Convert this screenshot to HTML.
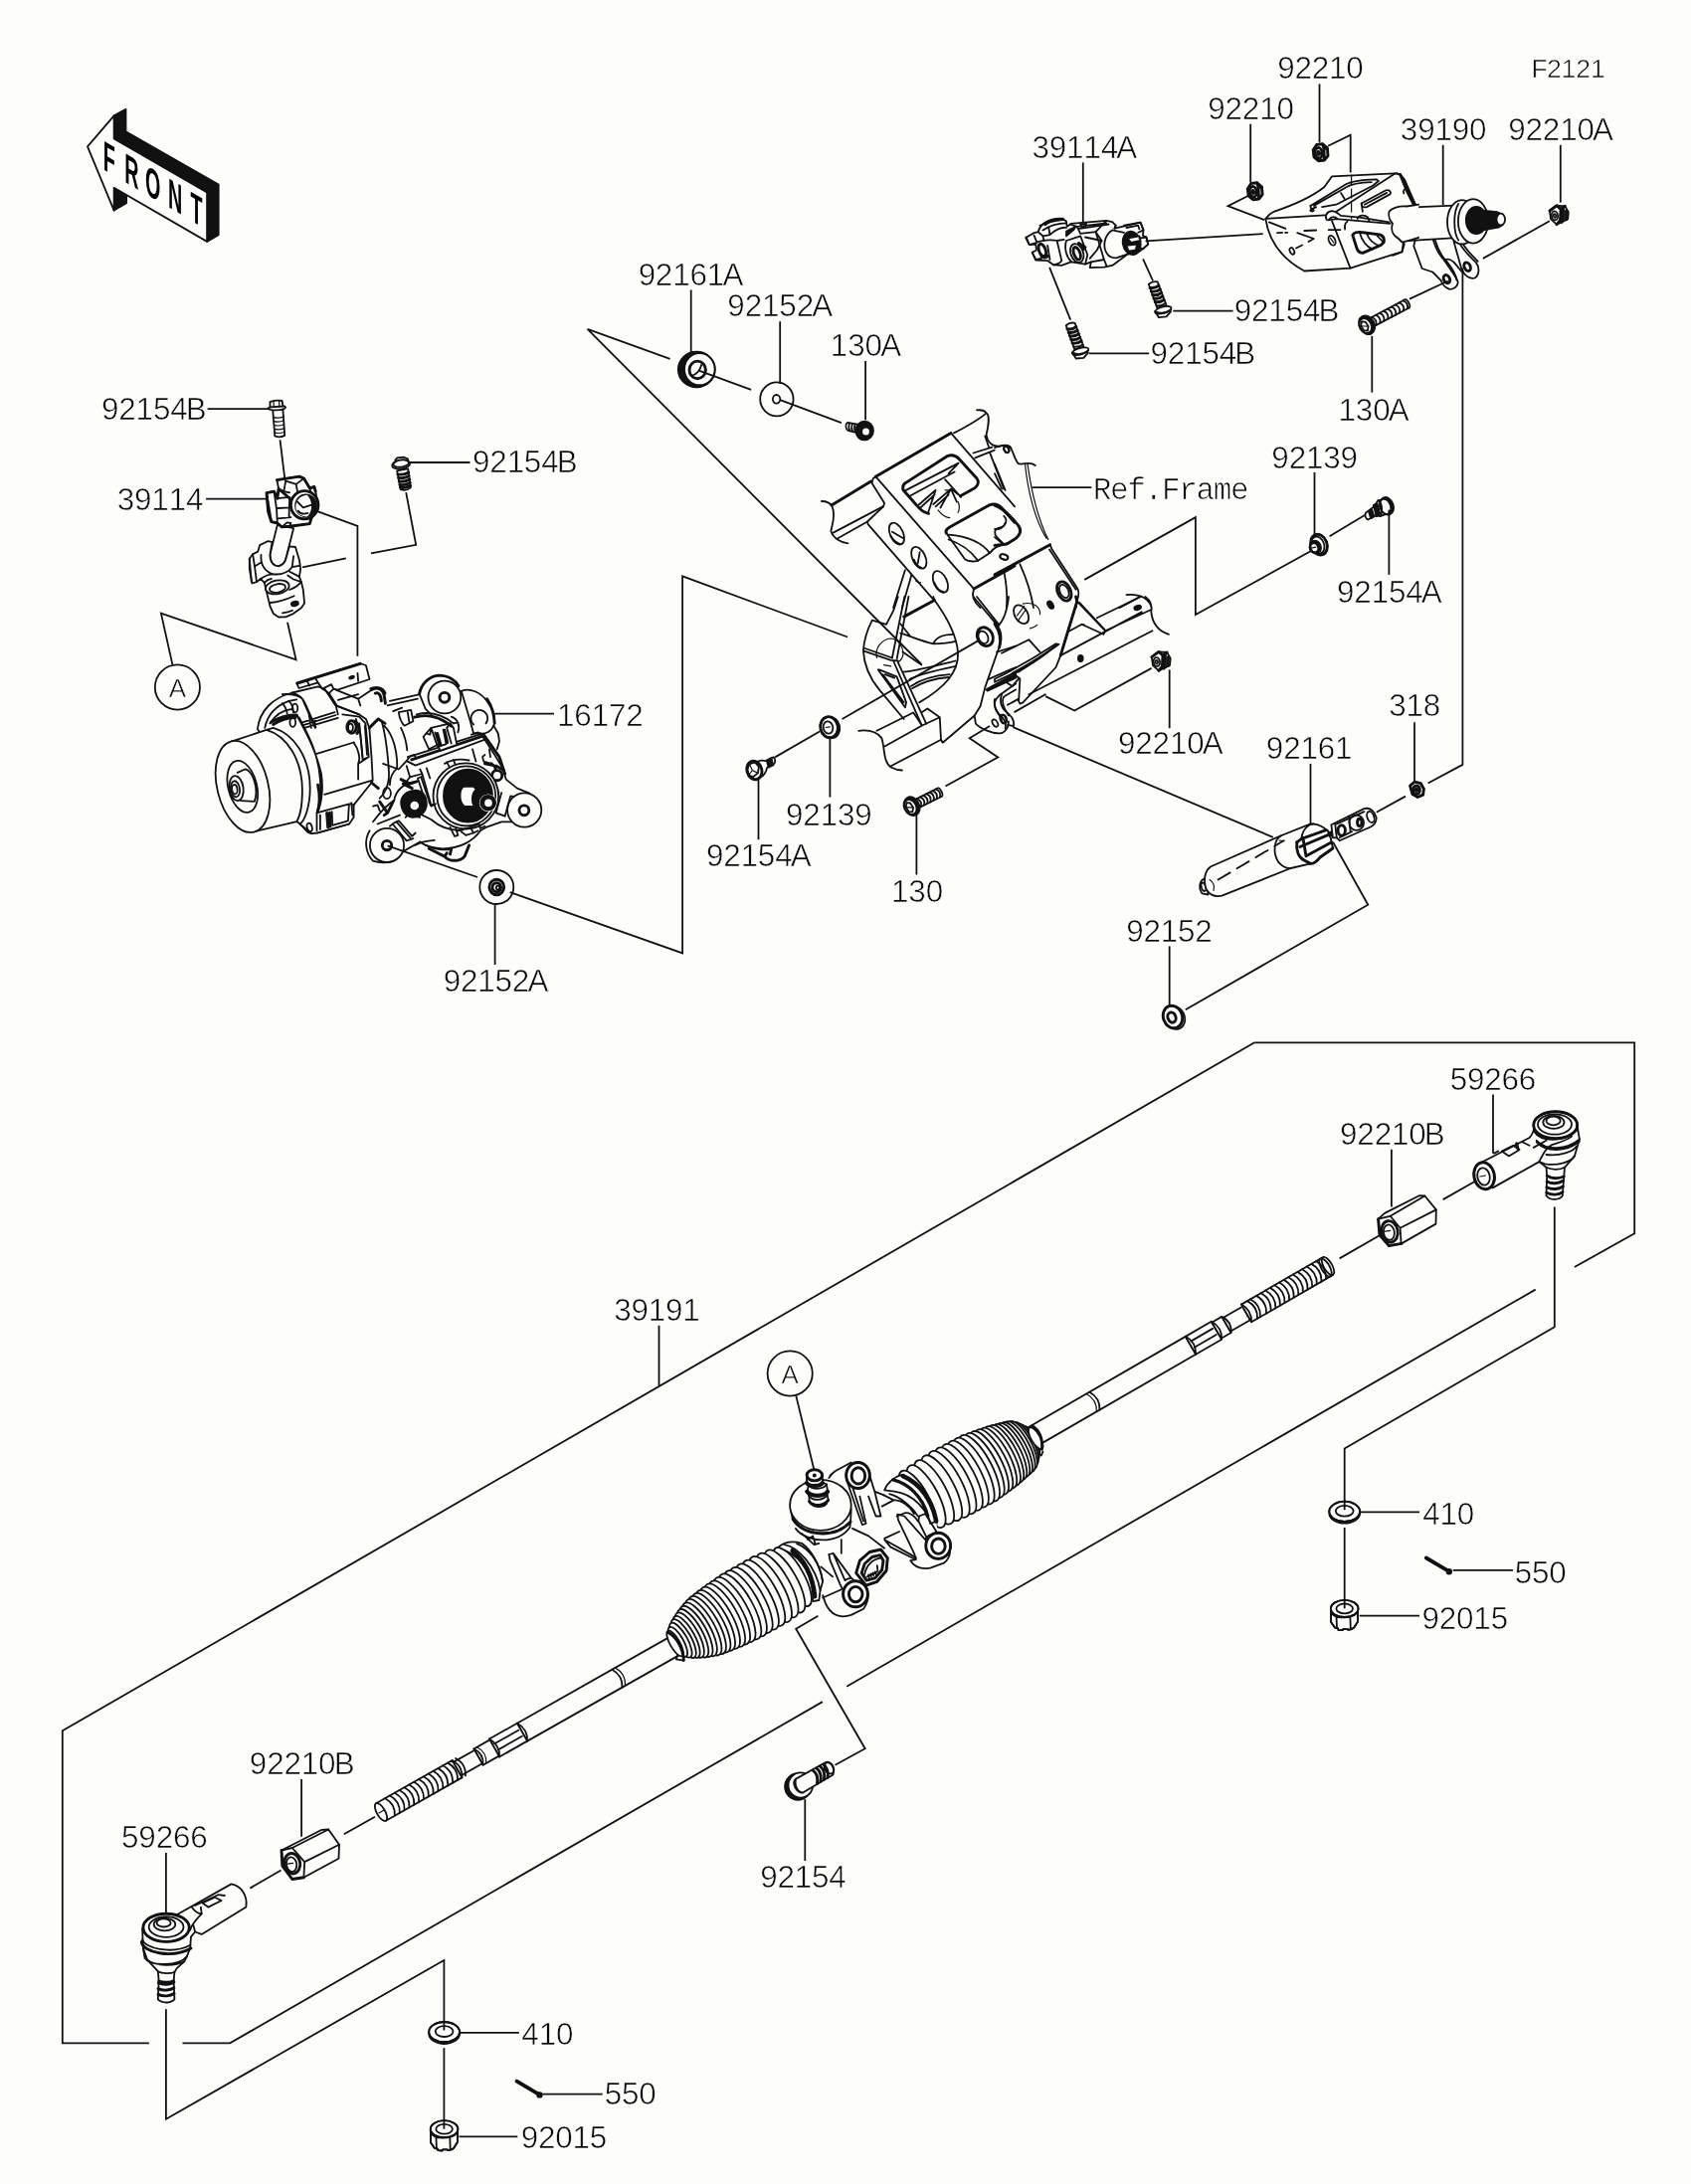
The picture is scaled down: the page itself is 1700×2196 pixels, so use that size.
<!DOCTYPE html>
<html><head><meta charset="utf-8"><title>Steering parts diagram F2121</title>
<style>html,body{margin:0;padding:0;background:#fdfefc}svg{display:block}.lb text{font-family:"Liberation Sans","DejaVu Sans",sans-serif;font-size:31.4px;fill:#0a0a0a;stroke:#fdfefc;stroke-width:0.6px;text-anchor:middle}.ln{fill:none;stroke:#111;stroke-width:1.8;stroke-linejoin:miter}.parts *{stroke:#111;stroke-width:1.8;stroke-linejoin:round;stroke-linecap:round}.parts text{stroke:none}.p{fill:none}.w{fill:#fdfefc}.k{fill:#111}.t{fill:none;stroke-width:1.2 !important}.h{fill:none;stroke-width:2.9 !important}.g{fill:#555}</style></head><body>
<svg width="1700" height="2196" viewBox="0 0 1700 2196" style="will-change:transform">
<rect width="1700" height="2196" fill="#fdfefc"/>
<g class="parts">
<g id="p01_front">
<polygon class="k" points="114.6,116.4 126.5,109.8 126.5,132.3 219.7,185.6 219.7,236.1 208.1,242.9 208.1,193.5 114.6,139.4"/>
<polygon class="k" points="114.6,188.8 127.1,195.8 127.1,204.2 114.6,211.6"/>
<polygon class="w" points="88.0,147.4 114.6,116.4 114.6,139.4 208.1,193.5 208.1,242.9 114.6,188.8 114.6,211.6"/>
<text transform="translate(109.7 173.7) skewY(30) scale(0.47 1)" text-anchor="middle" style="font-family:'Liberation Sans','DejaVu Sans',sans-serif;font-weight:bold;font-size:42px;fill:#000">F</text>
<text transform="translate(132.4 186.8) skewY(30) scale(0.47 1)" text-anchor="middle" style="font-family:'Liberation Sans','DejaVu Sans',sans-serif;font-weight:bold;font-size:42px;fill:#000">R</text>
<text transform="translate(153.7 199.2) skewY(30) scale(0.47 1)" text-anchor="middle" style="font-family:'Liberation Sans','DejaVu Sans',sans-serif;font-weight:bold;font-size:42px;fill:#000">O</text>
<text transform="translate(176.2 212.2) skewY(30) scale(0.47 1)" text-anchor="middle" style="font-family:'Liberation Sans','DejaVu Sans',sans-serif;font-weight:bold;font-size:42px;fill:#000">N</text>
<text transform="translate(197.5 225.1) skewY(30) scale(0.47 1)" text-anchor="middle" style="font-family:'Liberation Sans','DejaVu Sans',sans-serif;font-weight:bold;font-size:42px;fill:#000">T</text>
</g>
<g id="p02_ujoint">
<path class="w" d="M 274.2 411.9 L 276.3 438.4 Q 281.4 440.5 286.2 437.9 L 284.4 411.5 Z"/>
<path class="t" d="M 275.1 419.7 Q 280.7 421.0 285.2 418.9"/>
<path class="t" d="M 275.4 423.6 Q 280.7 424.9 285.4 422.8"/>
<path class="t" d="M 275.7 427.5 Q 280.7 428.8 285.7 426.7"/>
<path class="t" d="M 275.9 431.4 Q 280.7 432.7 285.9 430.6"/>
<path class="t" d="M 276.2 435.0 Q 280.7 436.3 286.2 434.2"/>
<ellipse class="w" cx="278.4" cy="410.2" rx="8.7" ry="2.1" transform="rotate(-4 278.4 410.2)"/>
<path class="w" d="M 271.6 409.3 L 271.4 404.1 Q 277.5 402.0 283.6 403.0 L 284.4 408.5 Z"/>
<path class="t" d="M 275.3 409.5 L 275.0 403.5 M 281.0 409.0 L 280.5 403.0"/>
<path class="w" d="M 399.1 473.3 L 402.8 492.1 Q 408.2 494.1 412.8 490.4 L 410.2 471.3 Z"/>
<path class="h" d="M 399.9 476.9 Q 406.3 477.9 410.8 475.1"/>
<path class="h" d="M 400.6 480.4 Q 406.3 481.5 411.2 478.6"/>
<path class="h" d="M 401.2 483.9 Q 406.3 485.0 411.8 482.1"/>
<path class="h" d="M 401.9 487.3 Q 406.3 488.4 412.3 485.5"/>
<path class="h" d="M 402.4 490.2 Q 406.3 491.2 412.7 488.4"/>
<ellipse class="w" cx="403.2" cy="467.0" rx="9.1" ry="4.4" transform="rotate(-8 403.2 467.0)"/>
<ellipse class="w" cx="403.2" cy="466.1" rx="7.8" ry="3.5" transform="rotate(-8 403.2 466.1)"/>
<path class="p" d="M 397.2 462.9 L 399.1 460.5 L 405.6 459.6 L 409.9 461.3 L 410.6 464.4"/>
<path class="w" d="M 278.8 527.9 L 271.4 557.8 Q 271.6 568.9 280.1 569.3 Q 286.2 567.6 287.5 561.5 L 295.1 531.2 Z"/>
<path class="w" d="M 250.8 561.7 L 254.1 557.2 L 259.3 554.6 L 261.2 548.1 L 269.0 544.2 L 273.6 544.8 L 271.4 557.8 Q 271.6 568.9 280.1 569.3 Q 286.2 567.6 287.5 561.5 L 290.9 549.4 L 297.0 550.0 L 300.9 563.0 L 302.2 572.1 L 300.9 579.9 L 302.9 585.2 L 304.8 593.0 L 306.1 606.6 L 302.9 611.2 L 293.7 617.7 L 287.2 620.3 L 280.1 620.5 L 274.9 617.0 L 271.6 609.9 L 268.4 596.9 L 265.8 585.8 L 261.9 581.9 L 258.0 585.2 L 253.4 586.5 L 250.8 572.1 Z"/>
<path class="p" d="M 262.5 557.8 Q 261.2 572.1 274.2 577.3 Q 287.2 578.6 293.7 570.2 L 295.1 559.1"/>
<path class="p" d="M 250.8 561.7 L 252.8 585.2 M 254.1 557.2 L 256.0 569.5 L 262.5 565.6 M 256.0 569.5 L 258.0 585.2"/>
<path class="p" d="M 261.9 581.9 Q 269.0 577.3 274.2 577.3 M 265.8 585.8 Q 269.0 582.5 272.9 581.9"/>
<path class="p" d="M 293.7 570.2 L 300.9 568.9 M 291.1 574.7 L 300.9 579.9 M 289.2 578.6 L 295.1 582.5 L 302.9 585.2"/>
<ellipse class="w" cx="278.8" cy="590.4" rx="12.0" ry="6.8" transform="rotate(-10 278.8 590.4)"/>
<ellipse class="p" cx="279.0" cy="591.4" rx="8.1" ry="4.2" transform="rotate(-10 279.0 591.4)"/>
<path class="p" d="M 271.6 606.0 Q 282.0 605.3 295.7 599.2"/>
<path class="p" d="M 284.0 616.4 Q 289.8 615.7 294.0 613.8"/>
<ellipse class="k" cx="296.4" cy="607.0" rx="3.6" ry="2.2" transform="rotate(-15 296.4 607.0)"/>
<path class="p" d="M 291.1 593.0 Q 297.7 591.0 302.9 585.2"/>
<path class="w" d="M 278.4 482.6 L 300.9 479.1 L 305.5 481.1 L 311.3 490.8 L 315.9 489.5 L 317.2 494.1 L 319.8 507.1 L 319.8 511.6 L 313.3 520.1 L 311.3 526.6 L 291.1 529.2 L 283.3 529.9 L 278.8 526.0 L 272.9 524.7 L 269.7 514.9 L 268.0 495.6 L 275.5 494.1 L 278.8 501.2 L 280.1 491.5 Z"/>
<path class="h" d="M 278.4 482.6 L 300.9 479.1 L 305.5 481.1 L 311.3 490.8 L 315.9 489.5 L 317.2 494.1 M 313.3 520.1 L 311.3 526.6 L 291.1 529.2 L 283.3 529.9 L 278.8 526.0 L 272.9 524.7 L 269.7 514.9 L 268.0 495.6 L 275.5 494.1 L 278.8 501.2 L 280.1 491.5 Z"/>
<path class="p" d="M 268.0 495.6 L 271.4 514.9 L 272.9 524.7 M 275.5 494.1 L 278.1 512.3 L 278.8 526.0 M 278.8 501.2 L 291.1 499.9 M 280.1 491.5 L 285.3 494.1 L 287.2 483.7 M 285.3 494.1 L 291.1 495.4 M 279.4 511.0 L 291.1 510.3 M 279.4 521.4 L 292.4 520.1 M 291.1 499.9 L 290.5 520.1"/>
<path class="p" d="M 287.2 483.7 L 297.7 486.9 L 305.5 481.1 M 297.7 486.9 L 299.0 494.1 M 311.3 490.8 L 313.3 498.0"/>
<path class="p" d="M 283.3 529.9 L 288.5 525.3 L 292.4 526.0 L 291.1 529.2"/>
<ellipse class="w" cx="306.1" cy="507.7" rx="13.8" ry="14.1"/>
<ellipse class="h" cx="306.1" cy="507.7" rx="13.8" ry="14.1"/>
<ellipse class="k" cx="307.5" cy="508.4" rx="10.4" ry="10.9"/>
<path class="w" d="M 308.7 497.7 C 300.9 498.2 297.0 504.2 297.4 510.3 C 297.9 515.9 302.2 519.3 308.7 519.5 C 314.6 514.9 314.6 502.9 308.7 497.7 Z" style="stroke:none"/>
<path class="p" d="M 299.0 504.5 L 304.8 510.3 L 313.3 507.7 M 299.6 513.6 Q 302.9 518.1 309.4 515.9"/>
</g>
<g id="p03_motor">
<path class="w" style="stroke:none" d="M 370.5 693.7 L 422.2 697.1 L 428.9 682.5 L 441.3 679.1 L 453.7 682.5 L 463.8 694.8 L 473.9 692.6 L 485.1 698.2 L 493.0 709.4 L 497.5 720.7 L 496.3 729.7 L 500.8 738.7 L 502.0 749.9 L 508.7 772.4 L 509.8 785.8 L 519.9 792.6 L 534.6 798.2 L 543.5 810.6 L 542.4 822.9 L 532.3 830.8 L 519.9 831.9 L 504.2 826.3 L 487.4 833.0 L 472.8 848.8 L 467.1 861.1 L 455.9 865.6 L 446.9 861.1 L 422.2 846.5 L 405.3 855.5 L 395.2 865.6 L 381.7 866.7 L 370.5 862.2 Z"/>
<path class="h" d="M 421.6 697.6 C 423.3 688.1 431.2 679.7 441.3 679.1 C 451.4 679.1 458.1 684.7 461.0 689.8"/>
<path class="p" d="M 421.6 697.6 L 427.8 712.8 L 433.4 718.4"/>
<ellipse class="w" cx="446.9" cy="701.0" rx="16.4" ry="16.4"/>
<ellipse class="h" cx="446.9" cy="701.3" rx="4.9" ry="4.9"/>
<path class="p" d="M 463.8 694.8 C 472.8 691.5 482.9 696.0 489.6 704.9 C 495.8 712.8 498.6 722.9 496.3 729.7 C 494.1 735.3 488.5 738.1 482.9 737.5"/>
<path class="h" d="M 489.6 702.7 C 494.1 709.4 496.9 718.4 497.2 727.4"/>
<path class="p" d="M 488.5 727.4 A 8.4 8.4 0 1 0 476.1 728.5"/>
<path class="p" d="M 463.8 694.8 L 472.8 725.2 L 476.1 737.5 L 482.9 737.5"/>
<path class="p" d="M 496.3 729.7 L 500.8 737.5 L 502.0 745.4 L 499.7 753.3"/>
<path class="p" d="M 482.9 737.5 L 488.5 745.4 L 498.6 761.1 L 505.3 772.4 L 508.7 783.6 L 519.9 792.6 L 532.3 797.6"/>
<path class="h" d="M 486.2 738.7 L 502.0 761.1 L 507.6 778.0"/>
<ellipse class="w" cx="527.2" cy="814.5" rx="17.1" ry="17.1"/>
<ellipse class="h" cx="526.9" cy="814.8" rx="4.9" ry="4.9"/>
<path class="p" d="M 504.2 797.1 L 498.6 817.3 L 507.6 820.7 L 513.2 800.4 M 501.4 796.5 L 495.8 816.7 M 513.2 800.4 L 516.6 801.0"/>
<path class="p" d="M 514.3 826.3 L 504.2 826.3 L 488.5 831.9 L 482.9 835.3"/>
<path class="w" d="M 408.7 765.1 L 412.1 760.6 L 483.4 738.1 L 487.4 743.7 L 417.7 769.6 Z"/>
<path class="h" d="M 413.8 763.9 L 484.6 740.3"/>
<path class="p" d="M 409.8 761.1 L 416.6 758.9 L 418.3 762.8 M 473.9 738.7 L 480.6 736.4 L 482.3 738.7"/>
<path class="w" d="M 425.6 740.9 L 428.4 737.5 L 433.4 731.9 L 452.5 727.4 L 455.9 731.9 L 459.3 748.8 L 442.4 754.9 L 440.2 748.8 L 431.2 753.3 Z"/>
<path class="p" d="M 437.4 736.4 L 441.9 750.4 L 448.6 748.2 L 445.6 733.6 M 433.4 731.9 L 439.6 749.9 M 452.5 727.4 L 449.2 731.9 L 453.7 747.6 M 428.4 737.5 L 432.3 738.7 L 433.4 731.9"/>
<path class="h" d="M 439.6 737.5 L 443.0 748.8 M 446.9 734.2 L 449.7 746.5"/>
<path class="h" d="M 416.6 721.2 C 428.9 717.3 442.4 720.7 453.7 730.2"/>
<path class="p" d="M 418.8 718.4 C 431.2 715.1 444.7 718.4 455.9 727.4"/>
<path class="p" d="M 391.9 704.9 L 422.2 698.2 M 389.6 709.4 L 419.9 702.7 M 395.2 715.1 L 404.2 711.7"/>
<path class="h" d="M 372.8 692.6 C 379.5 690.3 385.1 692.6 386.2 699.3 L 387.4 707.2 M 377.2 697.1 C 380.6 696.0 382.9 698.2 383.4 704.9"/>
<path class="w" d="M 400.8 716.2 L 413.2 713.9 L 415.4 725.2 L 406.5 729.7 Q 402.0 725.2 400.8 716.2 Z"/>
<path class="p" d="M 409.8 716.2 L 411.5 726.3"/>
<path class="p" d="M 453.7 720.7 C 460.4 722.9 462.6 729.7 460.4 736.4 M 455.9 727.4 L 460.4 726.3"/>
<path class="p" d="M 384.0 726.3 C 387.4 738.7 389.6 755.5 390.7 772.4 M 386.2 729.7 C 395.2 738.7 399.7 755.5 399.2 772.4 M 403.1 731.9 C 406.5 738.7 408.7 747.6 409.3 754.4"/>
<path class="p" d="M 385.1 767.9 L 400.8 773.5 L 408.7 765.1"/>
<path class="p" d="M 390.7 772.4 C 391.9 783.6 389.6 794.8 381.7 802.7 M 399.2 772.4 C 394.1 776.9 391.9 783.6 391.9 789.2"/>
<ellipse class="p" cx="389.0" cy="797.6" rx="3.9" ry="5.6"/>
<path class="p" d="M 408.7 770.1 L 412.1 781.3 L 424.4 778.0 L 433.4 809.4 L 437.9 808.3 M 412.1 781.3 L 408.7 785.8 M 424.4 778.0 L 422.2 773.5 M 428.9 772.4 L 432.3 782.5"/>
<path class="p" d="M 419.9 782.5 L 427.8 806.1 M 423.3 781.3 L 431.2 804.9 M 419.9 782.5 L 424.4 780.8"/>
<path class="h" d="M 403.1 783.6 L 412.1 788.1 L 418.8 785.8 M 405.3 788.1 L 414.3 792.6"/>
<path class="p" d="M 475.0 753.3 L 478.4 765.6 M 487.4 758.9 L 485.1 761.1 L 486.2 765.6 L 494.1 767.9 M 491.9 753.3 L 493.0 761.1"/>
<ellipse class="h" cx="499.7" cy="779.7" rx="5.1" ry="5.1"/>
<path class="h" d="M 487.4 767.9 L 498.6 770.1 L 506.5 774.6 M 494.1 767.9 C 497.5 770.1 498.6 772.4 498.0 774.6"/>
<ellipse class="w" cx="468.3" cy="800.4" rx="32.8" ry="33.1"/>
<ellipse class="p" cx="468.8" cy="800.4" rx="29.4" ry="30.1"/>
<path class="p" d="M 446.9 767.9 C 453.7 763.9 462.6 762.8 471.6 764.5 M 449.2 766.2 L 451.4 770.7 M 455.9 763.9 L 457.6 768.4"/>
<ellipse class="k" cx="470.5" cy="800.2" rx="24.5" ry="26.5"/>
<g style="stroke:#fdfefc">
<ellipse class="t" cx="465.4" cy="800.4" rx="16.9" ry="20.8"/>
<ellipse class="t" cx="465.4" cy="800.4" rx="13.7" ry="17.1"/>
<ellipse class="t" cx="465.8" cy="800.4" rx="10.8" ry="13.7"/>
</g>
<path class="w" d="M 466.0 790.9 C 461.5 793.7 461.0 806.1 466.6 810.6 L 476.7 811.1 C 473.9 806.6 473.9 797.6 478.9 793.7 L 476.1 790.9 Z"/>
<ellipse class="w" cx="490.7" cy="807.2" rx="8.8" ry="8.8" style="stroke:none"/>
<ellipse class="k" cx="490.7" cy="807.2" rx="7.4" ry="7.4"/>
<ellipse class="w" cx="491.0" cy="807.4" rx="4.7" ry="4.7"/>
<path class="k" d="M 403.1 806.1 C 404.2 798.2 412.1 793.7 419.9 794.8 C 425.6 796.0 428.9 801.6 428.9 809.4 C 427.8 817.3 422.2 821.8 414.3 821.8 C 407.6 820.7 403.1 815.1 403.1 806.1 Z"/>
<ellipse class="w" cx="416.8" cy="810.0" rx="5.2" ry="5.2"/>
<path class="p" d="M 396.3 804.9 C 397.5 794.8 406.5 787.0 417.7 785.8 M 407.6 821.8 L 409.8 819.6 L 422.2 821.8"/>
<path class="p" d="M 422.2 818.4 L 433.4 824.0 C 442.4 831.9 453.7 835.3 464.9 834.7 M 437.9 808.3 L 433.4 810.6 L 431.2 806.1"/>
<path class="p" d="M 452.5 831.9 L 457.0 840.9 L 460.4 839.8 L 458.1 833.0 M 460.4 835.3 L 472.8 831.9 L 476.1 837.5 L 468.3 839.8 L 463.8 836.4 M 472.8 831.9 L 481.7 828.5 L 482.9 833.0 L 487.4 830.8 M 476.1 837.5 L 480.6 835.3"/>
<path class="p" d="M 482.9 835.3 C 476.1 845.4 462.6 853.3 444.7 853.3 C 435.7 852.7 427.8 851.0 422.2 846.5"/>
<path class="p" d="M 417.7 849.9 C 422.2 846.5 428.9 845.4 436.8 844.8 M 422.2 846.5 L 405.3 856.1 M 427.8 849.9 C 437.9 854.4 446.9 855.5 453.7 853.3"/>
<path class="h" d="M 431.2 853.3 L 446.9 861.1 C 451.4 866.7 462.6 866.7 467.1 861.1 L 471.6 849.9 M 446.9 861.1 L 449.2 857.8 M 453.7 853.3 L 452.5 858.9"/>
<path class="p" d="M 391.9 830.8 L 396.3 827.4 L 400.8 825.2 L 414.3 840.9 L 417.7 837.5 M 394.7 828.5 L 408.7 845.4 L 415.4 843.1 M 398.6 826.3 L 412.6 842.6"/>
<path class="p" d="M 375.0 826.3 C 381.7 817.3 388.5 809.4 396.3 804.9 M 379.5 828.5 L 402.0 819.6 M 375.0 810.6 L 379.5 809.4 L 381.7 815.1"/>
<path class="h" d="M 381.7 806.1 L 389.6 817.3 L 386.2 819.6 M 389.6 817.3 L 395.2 806.1"/>
<ellipse class="w" cx="389.0" cy="849.9" rx="17.1" ry="17.1"/>
<ellipse class="h" cx="389.0" cy="850.1" rx="4.7" ry="4.7"/>
<path class="p" d="M 371.6 835.3 C 366.0 844.3 367.1 857.8 375.0 865.6 C 381.7 867.9 388.5 867.9 395.2 865.8"/>
<path class="w" d="M 258.9 733.0 C 261.2 713.9 274.7 701.6 293.8 696.5 L 319.6 690.3 L 326.3 692.6 L 337.6 709.4 L 361.2 718.4 L 367.9 722.9 L 371.3 731.9 L 373.5 761.1 L 374.7 784.7 L 373.5 787.0 L 355.6 809.4 L 355.6 821.8 L 351.1 828.5 L 319.6 837.5 L 312.9 838.1 L 301.6 828.5 L 283.7 772.4 Z"/>
<path class="w" d="M 298.3 687.0 L 361.7 667.0 L 367.9 669.0 L 371.5 683.0 L 339.3 693.7 L 335.3 692.6 L 330.8 697.1 L 324.1 692.6 L 319.6 686.4 L 300.5 692.0 Z"/>
<path class="h" d="M 298.8 687.0 L 362.3 667.3"/>
<path class="p" d="M 308.4 684.2 L 311.2 689.4 M 319.6 686.4 L 317.4 682.5 M 335.3 692.6 L 333.1 688.1 L 324.1 692.6 M 359.5 676.9 L 360.1 684.9"/>
<ellipse class="k" cx="353.5" cy="681.1" rx="2.5" ry="1.1" transform="rotate(-20 353.5 681.1)"/>
<path class="p" d="M 266.2 731.9 C 269.0 718.4 278.0 709.4 290.4 704.9 L 298.3 703.3 M 271.3 727.4 C 276.9 718.4 283.7 713.9 293.8 712.8"/>
<path class="p" d="M 283.7 698.2 C 294.9 697.1 301.6 700.4 303.9 702.7 L 312.9 722.9 L 316.8 731.9 M 293.8 696.5 C 300.5 698.2 305.0 702.7 306.7 707.2 L 316.2 728.5"/>
<path class="p" d="M 283.7 707.2 C 285.9 709.4 288.1 713.9 288.7 717.3 M 290.4 704.9 C 293.8 708.3 294.9 712.8 294.9 716.2"/>
<ellipse class="p" cx="296.6" cy="711.9" rx="2.7" ry="4.3"/>
<ellipse class="p" cx="294.3" cy="726.3" rx="2.9" ry="4.5"/>
<path class="h" d="M 272.4 726.3 C 281.4 720.7 290.4 718.4 298.3 719.0 M 274.7 728.5 C 283.7 722.9 290.4 721.2 297.1 721.6"/>
<path class="p" d="M 298.3 719.0 C 306.1 734.2 316.2 749.9 323.0 778.0 C 325.8 798.2 321.9 811.7 318.5 817.3 M 300.5 721.2 C 309.5 738.7 319.6 755.5 321.9 783.6 C 323.0 800.4 320.7 810.6 318.5 817.3"/>
<path class="h" d="M 319.6 789.2 C 321.9 800.4 321.3 809.4 319.6 815.1"/>
<path class="p" d="M 303.9 726.3 L 336.5 716.2 M 305.0 729.1 L 337.6 719.0 M 306.1 731.9 L 339.8 721.8 M 310.6 718.4 L 312.9 731.9 M 316.2 722.9 L 317.4 731.3"/>
<path class="p" d="M 326.3 692.6 L 337.6 709.4 L 339.8 718.4 M 330.8 697.1 L 338.7 709.4 M 337.6 709.4 L 361.2 718.4 M 339.8 703.8 L 360.1 698.2"/>
<path class="p" d="M 318.5 757.8 L 355.6 746.5 M 326.3 798.8 L 373.5 784.9"/>
<path class="p" d="M 344.3 718.4 L 361.2 720.7 L 367.4 727.4 L 370.7 761.1 L 364.6 763.9 L 362.3 738.7 L 357.8 722.9 M 355.6 746.5 C 361.2 754.4 362.3 763.4 360.1 767.9 L 360.1 783.6 M 360.1 767.9 L 370.7 761.1"/>
<path class="p" d="M 361.2 727.4 L 364.6 761.1 M 366.8 729.7 L 369.0 758.9"/>
<ellipse class="h" cx="353.5" cy="731.0" rx="4.7" ry="6.3"/>
<ellipse class="p" cx="352.4" cy="731.5" rx="2.5" ry="3.8"/>
<path class="h" d="M 356.7 725.2 C 361.2 727.4 362.3 734.2 358.9 737.5"/>
<path class="p" d="M 318.5 817.3 L 318.5 835.3 M 318.5 817.3 L 351.1 808.3 L 355.6 809.4 M 321.9 819.6 L 321.9 833.9 M 333.7 816.2 L 334.2 829.9 L 349.9 825.4 L 350.8 810.0 M 319.6 837.3 L 351.1 828.5 M 353.3 807.2 L 354.4 819.6"/>
<path class="h" d="M 328.6 817.5 L 329.7 831.9 M 331.4 817.1 L 332.0 831.0"/>
<ellipse class="p" cx="311.2" cy="831.9" rx="2.5" ry="4.3" transform="rotate(-15 311.2 831.9)"/>
<path class="p" d="M 301.6 828.5 L 309.5 837.0 L 312.9 838.1"/>
<path class="w" d="M 232.5 745.6 L 267.9 733.9 L 274.7 731.9 C 294.9 737.5 311.7 761.1 311.7 792.6 C 311.7 811.7 306.1 825.2 301.6 828.5 L 298.3 826.1 L 255.6 836.2 Z"/>
<path class="p" d="M 267.9 733.9 C 288.1 739.8 303.9 763.4 303.9 794.8 C 303.9 811.7 301.6 820.7 298.3 826.1"/>
<ellipse class="w" cx="244.0" cy="790.9" rx="25.6" ry="47.0" transform="rotate(-14 244.0 790.9)"/>
<ellipse class="p" cx="243.8" cy="790.9" rx="14.4" ry="26.5" transform="rotate(-14 243.8 790.9)"/>
<path class="p" d="M 238.7 776.9 L 246.8 773.3 C 255.0 775.7 260.1 794.8 255.8 805.8 L 242.1 805.2"/>
<ellipse class="w" cx="237.6" cy="792.6" rx="7.0" ry="12.6" transform="rotate(-8 237.6 792.6)"/>
<ellipse class="p" cx="236.5" cy="793.3" rx="4.5" ry="8.1" transform="rotate(-8 236.5 793.3)"/>
<ellipse class="p" cx="235.9" cy="793.7" rx="2.7" ry="4.7" transform="rotate(-8 235.9 793.7)"/>
<path class="h" d="M 371.3 731.9 L 380.3 722.9 L 387.0 727.4 M 373.5 787.0 L 380.3 792.6 M 373.5 693.7 C 378.0 690.3 384.8 691.5 387.0 697.1"/>
<path class="p" d="M 337.6 693.7 L 360.1 702.7 L 373.5 693.7 M 360.1 702.7 L 362.3 709.4"/>
</g>
<g id="p04_frame">
<path class="p" d="M 825.9 504.0 C 831.8 504.0 834.8 505.8 836.6 509.3 C 840.7 518.8 836.0 528.3 835.4 534.2 C 837.7 541.3 846.0 545.8 852.5 546.3"/>
<path class="h" d="M 836.0 507.9 L 875.6 483.9"/>
<path class="p" d="M 837.7 535.6 L 888.0 509.1 M 841.9 541.5 L 872.0 524.5"/>
<path class="p" d="M 880.3 479.2 L 877.7 481.2 L 876.5 485.7 L 889.2 506.0 L 888.0 509.3 L 872.0 524.5 L 872.6 527.1 L 938.9 603.4"/>
<path class="p" d="M 880.3 479.2 L 956.0 435.4 L 1020.0 509.3 M 880.3 479.2 L 979.1 592.1"/>
<path class="h" d="M 880.3 479.2 L 956.0 435.4"/>
<path class="h" d="M 979.1 592.1 L 1020.0 569.1"/>
<path class="p" d="M 979.1 592.1 C 976.1 599.2 979.1 605.2 985.6 611.1"/>
<path class="p" d="M 982.0 412.4 C 986.8 411.8 990.3 413.5 991.5 415.3 M 959.0 435.4 C 973.8 427.7 985.6 420.6 991.5 415.3 C 995.0 417.1 993.9 427.7 991.5 437.2 C 992.7 444.3 997.4 449.0 1004.5 449.0 C 1009.2 447.3 1014.0 447.8 1016.3 450.8"/>
<path class="p" d="M 978.5 455.5 L 997.4 449.6 M 980.3 460.3 L 999.8 452.6 M 995.0 454.9 L 1009.2 491.6 M 990.3 438.4 L 993.9 449.0"/>
<ellipse class="p" cx="1011.8" cy="452.0" rx="2.1" ry="3.3" transform="rotate(-30 1011.8 452.0)"/>
<path class="h" d="M 908.1 492.8 C 906.9 489.2 908.1 486.9 911.1 485.1 L 952.5 458.5 C 957.2 456.7 960.7 457.9 963.7 460.9 L 982.0 481.0 C 984.4 484.5 983.2 488.1 980.3 490.4 L 965.5 498.7 M 933.5 516.4 C 928.8 515.3 925.3 512.9 921.7 508.2 L 908.1 492.8"/>
<path class="p" d="M 909.9 493.4 L 963.7 465.6 M 914.6 498.7 L 959.6 474.5 M 950.1 482.1 L 966.1 499.9 M 963.7 465.6 L 953.6 476.2 M 956.0 491.6 L 965.5 498.7"/>
<path class="p" d="M 922.9 508.2 L 940.6 492.8 L 933.5 514.1 M 925.3 510.5 L 939.5 497.5 M 938.3 507.0 L 956.0 491.6 L 945.4 510.5 M 940.6 509.3 L 953.6 497.5 M 956.0 491.6 L 961.9 504.6"/>
<path class="t" d="M 943.0 512.9 C 947.7 518.8 952.5 520.6 954.8 520.6 M 963.1 504.6 C 964.9 508.2 964.3 512.9 963.1 515.3 M 950.1 492.8 L 954.8 492.8"/>
<path class="h" d="M 951.3 536.0 C 950.1 533.6 951.9 531.8 954.8 530.0 L 993.9 508.2 C 999.8 505.8 1003.3 507.0 1006.9 510.5 L 1020.0 525.3"/>
<path class="p" d="M 951.3 536.0 L 970.2 562.6 C 973.8 564.9 978.5 564.9 983.2 563.8 L 995.0 556.1 C 999.8 549.6 1006.9 547.2 1014.0 546.0 L 1020.0 542.5"/>
<path class="p" d="M 953.6 537.7 C 967.8 538.9 985.6 543.6 995.0 556.1 M 953.6 542.5 C 967.8 547.2 977.3 555.5 983.2 563.8"/>
<path class="p" d="M 1009.2 518.8 C 1014.0 523.5 1010.4 529.5 1004.5 530.6 C 998.6 531.8 999.8 537.7 1002.1 540.1 L 1009.2 547.2"/>
<ellipse class="p" cx="1009.2" cy="560.0" rx="4.1" ry="2.6" transform="rotate(20 1009.2 560.0)"/>
<ellipse class="p" cx="901.4" cy="536.6" rx="6.5" ry="11.6" transform="rotate(-25 901.4 536.6)"/>
<ellipse class="p" cx="923.8" cy="560.8" rx="6.5" ry="11.6" transform="rotate(-25 923.8 560.8)"/>
<ellipse class="p" cx="945.4" cy="585.0" rx="6.5" ry="11.6" transform="rotate(-25 945.4 585.0)"/>
<path class="p" d="M 896.9 534.8 L 908.1 541.3 M 895.7 538.9 C 898.1 543.6 901.6 546.0 905.2 547.2 M 924.7 555.2 L 922.7 566.4 M 918.8 562.6 C 920.5 567.3 924.1 570.3 926.4 570.9 M 939.5 586.2 C 941.8 592.1 945.4 595.1 948.9 595.1"/>
<path class="p" d="M 909.9 573.2 L 898.1 611.1 M 916.4 577.9 L 906.9 611.1"/>
<path class="t" d="M 920.5 583.9 C 922.9 586.2 924.1 586.2 925.3 585.6"/>
<path class="p" d="M 1000.0 450.2 C 1004.7 447.8 1011.8 446.7 1015.4 449.0 C 1018.9 454.9 1020.1 462.0 1023.7 466.2 C 1028.4 468.0 1035.5 463.2 1040.8 468.0"/>
<ellipse class="p" cx="1011.8" cy="452.0" rx="2.4" ry="3.5" transform="rotate(-30 1011.8 452.0)"/>
<path class="t" d="M 1030.5 466.2 C 1033.1 492.8 1040.2 522.4 1052.0 541.3 M 1033.1 466.8 C 1036.7 492.8 1042.6 520.0 1053.8 542.5"/>
<path class="p" d="M 1000.0 466.8 L 1010.6 492.8 M 1000.0 476.2 L 1007.1 491.6"/>
<path class="h" d="M 1055.6 547.8 L 1000.0 577.9"/>
<path class="h" d="M 1000.0 508.2 C 1007.1 510.5 1014.2 516.4 1023.7 528.3 C 1027.2 533.0 1025.4 537.7 1021.3 541.3 L 1011.8 547.2 C 1007.1 548.4 1002.4 547.8 1000.0 548.4"/>
<path class="p" d="M 1000.0 531.8 C 1004.7 533.0 1009.5 530.6 1010.6 525.9 M 1000.0 540.1 L 1007.1 546.0"/>
<ellipse class="p" cx="1009.5" cy="560.0" rx="4.1" ry="2.6" transform="rotate(20 1009.5 560.0)"/>
<path class="p" d="M 1055.6 547.8 L 1057.4 551.9 L 1082.8 591.0 C 1085.2 594.5 1084.6 599.2 1082.8 604.0 L 1081.6 611.1 M 1055.0 552.5 L 1081.6 592.7"/>
<path class="p" d="M 1025.4 567.3 C 1031.9 581.5 1036.7 596.9 1039.0 611.1 M 1009.5 575.6 C 1011.8 587.4 1013.0 599.2 1011.8 611.1"/>
<ellipse class="h" cx="1069.8" cy="594.5" rx="6.5" ry="10.1" transform="rotate(-25 1069.8 594.5)"/>
<ellipse class="p" cx="1069.8" cy="594.5" rx="4.3" ry="7.1" transform="rotate(-25 1069.8 594.5)"/>
<ellipse class="k" cx="1055.6" cy="607.8" rx="1.9" ry="3.3" transform="rotate(-25 1055.6 607.8)"/>
<path class="p" d="M 1132.5 598.1 C 1141.9 596.9 1152.6 599.2 1157.3 609.3 M 1125.4 611.1 L 1145.5 600.4"/>
<path class="p" d="M 938.3 600.0 L 939.5 603.5"/>
<path class="h" d="M 939.5 603.5 L 908.7 620.1"/>
<path class="p" d="M 939.5 603.5 C 952.5 621.3 961.9 639.0 963.1 656.8 C 963.7 675.7 950.1 691.1 924.1 706.4"/>
<path class="p" d="M 909.3 600.0 L 896.9 661.5 M 913.4 600.0 L 901.6 662.7"/>
<path class="p" d="M 902.8 600.0 L 898.1 614.2 L 891.0 627.8 L 876.8 623.7 C 872.0 633.1 868.5 644.9 867.9 654.4 C 868.5 666.2 873.2 680.4 883.9 693.4 L 908.7 723.0"/>
<path class="p" d="M 867.9 654.4 L 895.7 663.9 L 902.8 664.5 M 869.7 652.0 L 896.9 661.5"/>
<path class="p" d="M 898.1 664.5 L 926.4 728.9 M 902.8 666.2 L 931.2 727.7"/>
<path class="p" d="M 882.7 673.3 L 909.9 711.2 L 911.1 706.4 L 901.6 680.4 L 883.9 673.3 Z M 887.4 678.1 L 908.7 706.4 M 889.8 678.1 L 899.2 681.6"/>
<path class="t" d="M 881.5 661.5 C 879.1 652.0 886.2 642.6 895.7 642.0 C 902.8 642.6 907.5 649.7 908.1 656.8 C 907.5 661.5 905.2 664.5 902.8 665.6"/>
<path class="t" d="M 888.6 668.6 L 895.7 669.8"/>
<path class="p" d="M 905.2 636.7 C 917.0 640.2 926.4 644.9 938.3 647.3 C 947.7 647.3 956.0 646.1 960.7 644.9 M 938.3 647.3 C 940.6 641.4 947.7 637.8 958.4 637.8 M 905.2 627.2 L 914.6 639.0 M 907.5 655.6 L 926.4 668.6"/>
<path class="p" d="M 908.7 675.7 C 926.4 673.3 944.2 668.6 960.7 664.5 M 914.6 682.8 C 926.4 676.9 944.2 673.3 960.7 669.8 M 915.8 689.9 C 926.4 682.8 938.3 679.2 954.8 678.1 M 917.0 692.3 C 927.6 685.7 938.3 682.2 953.6 681.0"/>
<path class="p" d="M 863.2 734.8 C 873.2 733.6 881.5 736.0 886.2 741.9 C 889.8 751.4 887.4 765.6 895.7 771.5 C 900.4 773.9 904.0 774.5 906.9 774.5"/>
<path class="p" d="M 881.5 734.8 L 918.2 716.5 L 927.0 729.5 L 889.8 750.2 M 927.0 729.5 L 944.8 721.2 L 932.4 712.4 L 927.0 715.9 M 944.8 721.2 L 946.0 743.7 L 895.7 770.3"/>
<path class="p" d="M 978.5 600.0 L 1003.3 629.6 C 1006.9 635.5 1007.5 640.2 1005.7 647.3 L 990.3 691.1 L 985.6 710.0 L 979.7 719.5 L 947.7 746.7 L 946.0 743.7 M 982.0 600.0 L 1004.5 628.4"/>
<path class="p" d="M 979.7 719.5 L 980.9 727.7 C 985.6 732.5 997.4 738.4 1006.9 737.2 C 1011.6 734.8 1014.0 730.1 1014.0 725.4"/>
<ellipse class="h" cx="990.3" cy="640.2" rx="7.7" ry="9.7" transform="rotate(-25 990.3 640.2)"/>
<ellipse class="p" cx="988.5" cy="640.8" rx="4.7" ry="6.5" transform="rotate(-25 988.5 640.8)"/>
<path class="p" d="M 1003.3 629.6 C 1009.2 623.7 1012.8 611.8 1014.0 600.0"/>
<path class="k" d="M 991.5 693.4 L 1021.1 676.9 L 1021.1 681.6 L 992.7 694.6 Z"/>
<path class="p" d="M 1002.1 655.6 L 1021.1 649.7 M 993.9 682.8 L 1021.1 671.0"/>
<path class="p" d="M 1021.1 687.5 L 1004.5 699.3 C 999.8 704.1 998.6 706.4 1001.0 713.5 L 1006.9 723.0 M 1021.1 693.4 L 1009.2 700.5 C 1006.9 704.1 1008.1 708.8 1010.4 713.5 L 1014.0 719.5"/>
<ellipse class="p" cx="1000.4" cy="727.1" rx="2.4" ry="4.0" transform="rotate(-30 1000.4 727.1)"/>
<ellipse class="p" cx="1009.2" cy="723.0" rx="2.8" ry="4.5" transform="rotate(-20 1009.2 723.0)"/>
<path class="p" d="M 1081.6 600.0 L 1082.8 604.7 L 1066.2 659.1 L 1061.5 671.0 L 1028.4 706.4 L 1025.4 707.6 L 1023.7 704.1"/>
<path class="h" d="M 1081.6 600.0 L 1082.8 604.7 L 1066.2 659.1"/>
<path class="p" d="M 1082.8 604.7 L 1111.2 634.3 L 1109.4 637.8 L 1087.5 627.8 M 1085.2 605.9 L 1110.6 633.1"/>
<path class="h" d="M 1000.0 627.2 C 1004.7 634.3 1007.1 642.6 1004.7 650.9"/>
<ellipse class="p" cx="1026.6" cy="617.7" rx="6.5" ry="10.1" transform="rotate(-30 1026.6 617.7)"/>
<path class="t" d="M 1022.5 618.9 L 1029.6 609.5 M 1023.7 623.7 L 1031.3 613.0"/>
<path class="t" d="M 1028.4 607.1 C 1039.0 604.7 1046.1 610.6 1045.5 617.7 M 1035.5 631.9 C 1039.0 631.3 1041.4 629.6 1042.6 628.4"/>
<ellipse class="k" cx="1056.2" cy="608.3" rx="2.4" ry="4.0" transform="rotate(-30 1056.2 608.3)"/>
<path class="p" d="M 1007.1 656.8 L 1034.3 643.2 L 1045.5 655.6"/>
<path class="w" d="M 1000.0 682.8 C 1023.7 671.0 1047.3 656.8 1061.5 647.3 L 1064.5 647.9 C 1053.2 656.8 1035.5 666.2 1021.3 675.7 L 1000.0 685.7 Z"/>
<path class="k" d="M 1017.7 676.9 C 1035.5 667.4 1049.7 659.1 1061.5 648.5 C 1052.0 659.1 1037.8 666.8 1023.7 675.7 Z"/>
<path class="p" d="M 1015.4 682.8 L 1021.3 679.2 L 1025.4 682.8 L 1024.2 704.1 M 1011.8 686.3 L 1017.7 689.9 L 1024.8 681.6"/>
<path class="p" d="M 1007.1 698.2 C 1004.7 704.1 1005.9 711.2 1011.8 715.9 C 1017.7 720.6 1020.1 725.4 1018.9 730.1 L 1013.0 728.9 M 1000.0 702.9 C 998.8 708.8 1001.2 715.9 1005.9 719.5 C 1009.5 723.0 1011.8 727.7 1010.6 732.5"/>
<ellipse class="p" cx="1008.3" cy="723.0" rx="2.8" ry="4.5" transform="rotate(-20 1008.3 723.0)"/>
<path class="p" d="M 1066.2 659.1 L 1147.8 615.4 M 1073.3 635.5 L 1087.5 627.8 L 1089.9 628.4 M 1102.9 621.3 L 1146.7 600.0 M 1111.2 634.3 L 1157.3 613.0 M 1034.3 698.2 L 1158.5 634.3 M 1020.1 715.9 L 1050.9 698.2 M 1013.0 708.8 L 1023.7 702.9"/>
<path class="p" d="M 1151.4 600.0 C 1156.1 603.5 1158.5 609.5 1157.3 615.4 C 1158.5 626.0 1163.2 634.3 1175.0 637.8"/>
<ellipse class="k" cx="1143.7" cy="610.9" rx="3.5" ry="2.0" transform="rotate(-20 1143.7 610.9)"/>
<ellipse class="k" cx="1086.3" cy="662.1" rx="2.4" ry="3.2"/>
</g>
<g id="p05_ujointA">
<path class="w" d="M 1031.2 239.1 L 1038.9 234.4 L 1043.7 233.2 C 1046.0 224.3 1055.5 219.0 1068.5 220.2 L 1072.0 222.5 L 1072.6 227.8 L 1076.8 224.9 L 1091.0 223.7 L 1112.3 221.9 L 1118.2 223.1 L 1121.7 226.7 L 1120.5 229.6 L 1146.6 223.7 L 1149.5 231.4 L 1148.9 236.7 L 1152.5 238.5 L 1154.2 245.6 L 1148.9 250.3 L 1143.0 254.5 L 1133.5 255.6 L 1126.4 261.0 L 1118.2 266.9 L 1109.9 268.7 L 1095.7 269.2 L 1096.9 263.3 L 1091.0 265.7 L 1076.8 263.3 L 1067.3 266.9 L 1059.0 266.3 L 1053.1 262.1 L 1041.3 261.6 L 1037.7 253.9 L 1041.9 251.5 L 1041.3 245.6 L 1034.8 246.2 Z"/>
<path class="p" d="M 1045.4 226.7 C 1050.8 224.3 1060.2 221.9 1069.7 220.8 M 1048.4 231.4 C 1055.5 226.7 1064.9 224.3 1072.0 224.3"/>
<path class="h" d="M 1050.8 225.5 C 1055.5 221.7 1062.6 219.8 1068.5 220.3"/>
<path class="p" d="M 1043.7 233.2 L 1048.4 237.3 L 1055.5 236.1 C 1060.2 231.4 1067.3 227.8 1072.0 229.0 M 1048.4 237.3 L 1049.6 242.0 M 1055.5 236.1 L 1054.3 229.0"/>
<path class="p" d="M 1031.8 238.5 L 1034.8 246.2 L 1042.5 243.8 L 1039.5 236.7 M 1037.7 253.9 L 1041.3 261.0 L 1047.2 259.8 L 1044.2 251.5"/>
<ellipse class="h" cx="1047.8" cy="251.5" rx="3.3" ry="6.5" transform="rotate(-20 1047.8 251.5)"/>
<ellipse class="k" cx="1051.0" cy="258.0" rx="2.6" ry="1.4" transform="rotate(-20 1051.0 258.0)"/>
<path class="p" d="M 1043.7 243.2 C 1050.8 240.9 1059.0 240.9 1062.6 242.0 L 1067.3 262.1 M 1062.6 242.0 L 1069.7 240.9 M 1055.5 261.0 L 1053.1 246.8 M 1059.0 266.3 C 1062.6 265.7 1066.1 264.5 1067.3 262.1"/>
<ellipse class="p" cx="1082.7" cy="254.5" rx="6.2" ry="9.7" transform="rotate(-20 1082.7 254.5)"/>
<ellipse class="h" cx="1082.7" cy="254.8" rx="3.1" ry="6.6" transform="rotate(-20 1082.7 254.8)"/>
<path class="p" d="M 1072.0 242.0 L 1086.2 237.3 L 1093.3 256.2 L 1091.0 265.7 M 1072.0 242.0 C 1069.7 249.1 1072.0 258.6 1076.8 262.7 M 1083.9 244.4 L 1091.0 249.1"/>
<path class="k" d="M 1084.5 243.8 L 1091.6 248.5 L 1089.2 251.5 Z"/>
<path class="p" d="M 1075.6 225.5 L 1082.7 227.8 L 1086.2 234.9 L 1101.6 233.2 L 1107.5 242.0 L 1102.8 251.5 L 1095.7 259.8 M 1082.7 227.8 L 1112.3 224.3 M 1086.2 234.9 L 1083.9 230.2 L 1114.6 225.5"/>
<path class="k" d="M 1072.0 232.6 L 1081.5 227.8 L 1079.1 231.4 L 1072.0 237.3 Z"/>
<path class="g" d="M 1086.2 225.5 L 1092.1 224.9 L 1091.0 227.8 L 1087.4 228.4 Z"/>
<path class="p" d="M 1101.6 233.2 L 1112.3 221.9 M 1101.6 233.2 L 1109.9 261.0 L 1096.9 263.3 M 1109.9 261.0 L 1112.3 266.9 M 1107.5 242.0 L 1091.0 238.5"/>
<path class="p" d="M 1118.2 231.4 C 1112.3 234.9 1108.7 243.2 1111.1 251.5 C 1113.4 257.4 1118.2 259.8 1122.9 259.2 L 1133.5 255.6 M 1118.2 231.4 L 1130.0 233.8 M 1120.5 229.6 L 1121.7 226.7"/>
<ellipse class="k" cx="1137.7" cy="244.4" rx="8.9" ry="11.8" transform="rotate(-10 1137.7 244.4)"/>
<path class="w" d="M 1133.5 239.7 L 1145.4 237.3 L 1146.6 242.0 L 1137.1 243.8 Z"/>
<path class="w" d="M 1132.4 246.8 L 1143.0 245.6 L 1141.8 251.5 L 1134.7 252.7 Z"/>
<path class="p" d="M 1130.0 226.7 L 1146.6 223.7 L 1149.5 231.4 L 1144.2 233.8 M 1132.4 229.0 L 1144.2 226.7 L 1145.4 230.2 M 1145.4 239.7 L 1152.5 238.5 L 1154.2 245.6 L 1148.9 250.3 L 1145.4 249.1"/>
<path class="w" d="M 1154.8 285.8 Q 1159.0 282.3 1163.7 283.4 L 1172.6 307.1 L 1163.3 309.7 Z"/>
<path class="h" d="M 1156.0 289.3 Q 1161.3 290.3 1165.0 287.2"/>
<path class="h" d="M 1157.3 292.9 Q 1162.6 293.8 1166.3 290.8"/>
<path class="h" d="M 1158.6 296.4 Q 1163.9 297.4 1167.6 294.3"/>
<path class="h" d="M 1159.9 300.0 Q 1165.2 300.9 1168.9 297.9"/>
<path class="h" d="M 1161.2 303.5 Q 1166.5 304.5 1170.2 301.4"/>
<path class="p" d="M 1162.5 307.1 Q 1167.8 308.0 1171.5 305.0"/>
<ellipse class="w" cx="1169.3" cy="311.8" rx="8.5" ry="3.3" transform="rotate(-15 1169.3 311.8)"/>
<path class="p" d="M 1161.9 314.2 L 1164.9 319.2 L 1172.6 318.4 L 1177.1 313.2"/>
<path class="p" d="M 1161.3 313.0 Q 1169.0 317.1 1177.3 311.2"/>
<path class="w" d="M 1071.7 327.2 Q 1075.8 323.6 1080.6 324.8 L 1089.4 348.5 L 1080.2 351.1 Z"/>
<path class="h" d="M 1072.9 330.7 Q 1078.2 331.7 1081.9 328.6"/>
<path class="h" d="M 1074.2 334.3 Q 1079.5 335.2 1083.2 332.2"/>
<path class="h" d="M 1075.5 337.8 Q 1080.8 338.8 1084.5 335.7"/>
<path class="h" d="M 1076.8 341.4 Q 1082.1 342.3 1085.8 339.3"/>
<path class="h" d="M 1078.1 344.9 Q 1083.4 345.9 1087.1 342.8"/>
<path class="p" d="M 1079.4 348.5 Q 1084.7 349.4 1088.4 346.4"/>
<ellipse class="w" cx="1086.1" cy="353.2" rx="8.5" ry="3.3" transform="rotate(-15 1086.1 353.2)"/>
<path class="p" d="M 1078.8 355.6 L 1081.7 360.5 L 1089.4 359.8 L 1093.9 354.6"/>
<path class="p" d="M 1078.2 354.4 Q 1085.9 358.5 1094.2 352.6"/>
</g>
<g id="p06_bracket">
<path class="w" d="M 1440.2 239.2 C 1442.6 247.5 1447.3 257.0 1452.0 261.7 C 1459.1 272.4 1463.9 278.3 1465.6 283.0 C 1466.2 287.7 1461.5 291.3 1456.8 290.7 C 1453.2 289.5 1449.7 285.4 1448.5 281.8 L 1440.2 273.5 L 1429.6 270.0 L 1421.3 247.5 L 1422.5 241.6 Z"/>
<path class="p" d="M 1442.8 241.6 C 1445.2 249.9 1449.7 258.2 1454.6 263.1 C 1459.1 268.8 1463.9 277.1 1464.5 281.8"/>
<ellipse class="h" cx="1454.4" cy="280.6" rx="3.0" ry="4.3" transform="rotate(-25 1454.4 280.6)"/>
<path class="p" d="M 1452.0 261.7 C 1455.6 259.3 1460.3 261.7 1463.9 266.4 L 1469.8 273.5"/>
<path class="w" d="M 1465.6 241.6 C 1471.0 252.3 1478.1 258.2 1484.0 264.1 C 1487.5 268.8 1487.5 275.9 1482.8 279.5 C 1478.1 281.2 1472.1 277.1 1470.4 272.4 L 1469.2 270.0 L 1461.5 242.8 Z"/>
<path class="p" d="M 1468.6 241.6 C 1473.3 251.1 1480.4 257.0 1485.7 262.9"/>
<ellipse class="h" cx="1475.1" cy="268.2" rx="3.0" ry="4.5" transform="rotate(-25 1475.1 268.2)"/>
<path class="w" d="M 1376.3 210.3 L 1461.5 206.7 L 1463.9 239.2 L 1422.5 241.6 L 1381.1 245.2 Z"/>
<ellipse class="w" cx="1469.8" cy="223.3" rx="14.8" ry="22.2"/>
<path class="p" d="M 1466.2 204.9 C 1460.9 213.2 1460.9 233.3 1466.2 241.6"/>
<ellipse class="w" cx="1481.0" cy="222.4" rx="15.1" ry="22.2"/>
<ellipse class="k" cx="1484.2" cy="221.5" rx="10.4" ry="13.6"/>
<path class="k" d="M 1482.8 210.9 L 1505.3 213.2 L 1510.6 215.6 L 1510.6 226.2 L 1506.4 228.6 L 1485.2 232.4 Z"/>
<ellipse class="w" cx="1508.8" cy="220.6" rx="4.3" ry="5.9"/>
<g style="stroke:#fdfefc"><path class="p" d="M 1485.7 213.8 C 1479.5 216.8 1479.5 227.4 1486.9 230.7"/><path class="t" d="M 1494.6 218.2 L 1494.6 223.9 M 1498.2 217.5 L 1498.2 224.6 M 1501.1 217.5 L 1501.1 224.6"/></g>
<path class="p" d="M 1400.0 175.4 L 1404.7 174.2 L 1411.8 180.1 L 1423.7 207.3 M 1400.0 178.9 L 1409.5 183.7 L 1415.4 197.8"/>
<ellipse class="p" cx="1413.6" cy="193.1" rx="2.4" ry="3.5" transform="rotate(-20 1413.6 193.1)"/>
<path class="p" d="M 1400.0 257.0 L 1409.5 253.4 L 1411.8 245.2 L 1407.1 240.4"/>
<path class="w" d="M 1272.3 219.9 C 1274.7 216.3 1277.0 214.6 1280.6 212.8 C 1301.9 205.7 1319.6 197.4 1331.4 188.0 L 1339.1 177.3 L 1402.4 174.4 L 1407.7 175.5 C 1411.9 179.7 1414.2 185.6 1415.4 191.5 L 1423.7 206.9 L 1410.7 244.7 L 1409.5 253.0 L 1357.5 269.6 L 1311.3 272.5 C 1284.1 257.7 1274.7 236.4 1272.3 219.9 Z"/>
<path class="p" d="M 1272.3 219.9 L 1332.0 216.3 M 1339.1 222.3 L 1357.5 269.6 M 1343.3 212.8 L 1402.4 174.4"/>
<path class="p" d="M 1317.3 206.9 L 1352.7 185.6 C 1357.5 182.6 1364.6 180.9 1383.5 180.3 L 1385.9 182.0 L 1379.9 186.8 M 1317.3 206.9 L 1318.4 210.4 L 1323.2 208.1 M 1320.8 206.9 L 1353.9 188.0 C 1358.6 185.0 1364.6 183.8 1378.8 183.2 M 1329.1 208.1 L 1343.3 205.7 L 1379.9 186.8 M 1348.0 193.9 L 1351.6 199.8"/>
<ellipse class="k" cx="1319.0" cy="211.6" rx="1.8" ry="0.9"/>
<path class="p" d="M 1368.7 204.5 L 1392.9 191.5 C 1396.5 190.3 1398.9 192.7 1397.7 195.1 L 1374.0 208.1 C 1370.5 209.2 1368.1 206.9 1368.7 204.5 Z M 1371.7 205.7 L 1394.1 193.9"/>
<path class="p" d="M 1368.7 204.5 L 1369.9 212.8"/>
<path class="t" d="M 1358.6 176.1 L 1358.6 219.9" stroke-dasharray="9 5"/>
<path class="w" d="M 1396.5 212.8 C 1398.9 209.2 1406.0 206.9 1414.2 207.5 L 1426.1 205.7 L 1426.1 238.8 L 1419.0 241.2 L 1409.5 243.5 L 1406.0 240.0 C 1400.0 236.4 1397.7 230.5 1400.0 224.6 C 1397.7 222.3 1395.3 217.5 1396.5 212.8 Z" style="stroke:none"/>
<path class="p" d="M 1426.1 205.7 L 1414.2 207.5 C 1406.0 206.9 1398.9 209.2 1396.5 212.8 C 1395.3 217.5 1397.7 222.3 1400.0 224.6 C 1397.7 230.5 1400.0 236.4 1406.0 240.0 L 1409.5 243.5 L 1419.0 241.2 L 1426.1 238.8"/>
<path class="p" d="M 1333.8 221.1 C 1331.4 217.5 1333.8 212.8 1338.5 212.2 C 1343.3 212.2 1345.6 215.2 1348.0 216.9 L 1366.9 218.7 L 1396.5 223.4"/>
<path class="p" d="M 1336.2 220.5 C 1338.5 217.5 1342.1 217.5 1344.5 219.9 M 1335.0 221.3 L 1343.3 220.1 L 1397.7 224.9"/>
<path class="p" d="M 1364.6 219.9 C 1365.7 216.3 1371.7 215.2 1375.2 218.7 L 1376.4 222.3"/>
<path class="p" d="M 1275.9 223.4 L 1292.4 229.9 M 1304.2 234.1 L 1320.8 240.0 L 1315.5 243.0 M 1311.3 232.0 L 1323.2 231.5 M 1335.6 231.1 L 1347.4 231.1 M 1352.1 230.5 C 1351.6 227.0 1352.7 224.0 1354.5 222.8 M 1303.1 249.5 L 1309.0 246.5"/>
<path class="p" d="M 1284.1 234.1 L 1294.2 233.8" stroke-dasharray="5 3"/>
<ellipse class="p" cx="1339.1" cy="241.8" rx="3.1" ry="5.2" transform="rotate(-25 1339.1 241.8)"/>
<path class="t" d="M 1337.4 239.4 L 1340.9 244.1"/>
<ellipse class="p" cx="1298.9" cy="252.4" rx="2.1" ry="3.5" transform="rotate(-25 1298.9 252.4)"/>
<path class="h" d="M 1359.8 236.4 C 1361.0 234.1 1364.6 232.9 1368.1 233.5 L 1387.0 235.9 C 1390.6 237.0 1391.8 240.0 1391.2 243.5 L 1388.2 246.5 L 1370.5 254.2 C 1366.9 254.8 1365.2 253.0 1364.0 249.5 Z"/>
<path class="p" d="M 1366.9 234.1 C 1369.3 242.4 1374.0 248.3 1379.9 250.6 M 1374.0 234.7 C 1376.4 241.2 1381.1 245.3 1387.0 247.1 M 1383.5 235.9 L 1390.6 243.5"/>
<path class="h" d="M 1407.7 175.5 L 1414.2 191.5 L 1421.3 205.7"/>
<path class="p" d="M 1411.3 194.5 C 1410.1 191.5 1411.9 189.7 1414.2 190.3"/>
<path class="w" d="M 1320.2 150.7 L 1323.8 145.4 L 1329.7 144.8 L 1334.4 148.9 L 1335.0 156.6 L 1331.4 161.0 L 1325.5 161.7 L 1321.0 157.8 Z"/>
<path class="h" d="M 1320.2 150.7 L 1323.8 145.4 L 1329.7 144.8 L 1334.4 148.9 L 1335.0 156.6 L 1331.4 161.0 L 1325.5 161.7 L 1321.0 157.8 Z M 1329.7 144.8 L 1330.9 149.5 L 1331.4 161.0 M 1334.4 148.9 L 1330.9 149.5"/>
<ellipse class="h" cx="1325.8" cy="153.7" rx="3.5" ry="5.2" transform="rotate(-10 1325.8 153.7)"/>
<ellipse class="k" cx="1325.8" cy="153.9" rx="1.3" ry="2.1" transform="rotate(-10 1325.8 153.9)"/>
<path class="w" d="M 1254.3 189.7 L 1257.9 184.4 L 1263.8 183.8 L 1268.5 188.0 L 1269.1 195.6 L 1265.6 200.0 L 1259.7 200.7 L 1255.2 196.8 Z"/>
<path class="h" d="M 1254.3 189.7 L 1257.9 184.4 L 1263.8 183.8 L 1268.5 188.0 L 1269.1 195.6 L 1265.6 200.0 L 1259.7 200.7 L 1255.2 196.8 Z M 1263.8 183.8 L 1265.0 188.5 L 1265.6 200.0 M 1268.5 188.0 L 1265.0 188.5"/>
<ellipse class="h" cx="1259.9" cy="192.7" rx="3.5" ry="5.2" transform="rotate(-10 1259.9 192.7)"/>
<ellipse class="k" cx="1259.9" cy="192.9" rx="1.3" ry="2.1" transform="rotate(-10 1259.9 192.9)"/>
<path class="w" d="M 1557.9 212.0 L 1565.0 206.7 L 1573.3 207.3 L 1576.8 213.2 L 1576.2 220.3 L 1570.3 223.3 L 1565.0 225.6 L 1559.1 220.3 Z"/>
<path class="h" d="M 1557.9 212.0 L 1565.0 206.7 L 1569.1 210.3 L 1568.5 221.5 L 1565.0 225.6 M 1569.1 210.3 L 1573.3 207.3 M 1568.5 221.5 L 1570.3 223.3 M 1571.5 209.7 L 1571.5 222.1 M 1574.5 212.0 L 1574.5 220.9"/>
<ellipse class="p" cx="1563.0" cy="216.8" rx="3.1" ry="4.5" transform="rotate(-10 1563.0 216.8)"/>
<ellipse class="p" cx="1563.0" cy="217.0" rx="1.2" ry="1.9" transform="rotate(-10 1563.0 217.0)"/>
</g>
<g id="p07_damper">
<path class="w" d="M 1213.1 883.0 C 1205.4 883.8 1204.6 893.0 1208.5 898.4 L 1214.6 899.5 Z"/>
<ellipse class="p" cx="1210.0" cy="891.8" rx="2.2" ry="4.3" transform="rotate(-15 1210.0 891.8)"/>
<path class="w" d="M 1216.9 871.5 L 1288.4 840.0 L 1317.6 828.4 C 1328.4 828.4 1336.1 834.6 1337.6 842.3 L 1339.9 853.0 L 1326.8 862.3 C 1323.8 866.1 1320.7 868.4 1317.6 868.4 L 1297.6 873.0 L 1228.4 900.7 C 1220.8 902.2 1213.1 899.2 1211.5 889.9 C 1210.0 880.7 1213.1 874.6 1216.9 871.5 Z"/>
<path class="p" d="M 1288.4 840.0 C 1280.7 843.8 1279.2 857.6 1285.3 866.9 C 1289.9 872.2 1294.6 873.3 1297.6 873.0"/>
<path class="p" d="M 1308.4 842.3 C 1309.9 833.0 1316.1 828.4 1320.7 828.4"/>
<path class="p" d="M 1224.6 884.5 L 1290.7 845.3" stroke-dasharray="14 8"/>
<path class="t" d="M 1216.1 884.5 C 1220.0 886.9 1221.5 891.5 1220.0 895.3"/>
<path class="t" d="M 1286.1 845.0 L 1290.7 845.6"/>
<path class="w" d="M 1303.8 846.9 C 1303.0 854.6 1305.3 862.3 1311.5 865.3 L 1317.6 868.4 C 1320.7 868.4 1323.8 866.1 1326.8 862.3 L 1339.9 853.0 L 1337.6 842.3 L 1334.5 834.6 L 1309.9 842.3 Z"/>
<path class="h" d="M 1303.8 846.9 C 1303.0 854.6 1305.3 862.3 1311.5 865.3 L 1317.6 868.4 C 1320.7 868.4 1323.8 866.1 1326.8 862.3 L 1339.9 853.0"/>
<path class="h" d="M 1309.9 843.0 L 1333.0 834.6 M 1306.9 851.5 L 1336.1 839.2 M 1313.0 860.7 L 1338.4 846.9 M 1303.8 846.9 L 1309.9 842.3 L 1313.0 860.7"/>
<path class="h" d="M 1336.1 837.7 L 1349.9 831.5 M 1336.8 840.1 L 1350.7 834.0"/>
<path class="w" d="M 1338.4 829.2 L 1371.4 813.1 C 1377.6 811.5 1382.2 816.1 1383.7 822.3 C 1383.7 826.9 1380.7 830.7 1376.0 832.3 L 1346.8 845.3 L 1343.8 842.3 L 1339.9 842.3 Z"/>
<ellipse class="p" cx="1377.9" cy="821.5" rx="3.4" ry="5.8" transform="rotate(-20 1377.9 821.5)"/>
<ellipse class="p" cx="1363.7" cy="827.2" rx="7.4" ry="7.7"/>
<ellipse class="h" cx="1366.8" cy="826.9" rx="2.2" ry="3.7"/>
<path class="p" d="M 1356.1 820.7 L 1357.6 836.1 M 1342.2 828.4 L 1343.8 842.3 M 1343.8 828.4 L 1371.4 816.1 M 1346.8 842.3 L 1359.1 836.1"/>
<ellipse class="h" cx="1348.7" cy="834.9" rx="3.7" ry="5.2"/>
<path class="w" d="M 1417.6 790.0 L 1422.2 786.1 L 1428.3 787.7 L 1431.4 793.1 L 1430.6 799.2 L 1425.2 801.5 L 1419.9 798.4 Z"/>
<path class="h" d="M 1417.6 790.0 L 1422.2 786.1 L 1428.3 787.7 L 1431.4 793.1 L 1430.6 799.2 L 1425.2 801.5 L 1419.9 798.4 Z"/>
<ellipse class="h" cx="1424.0" cy="794.3" rx="3.4" ry="4.3"/>
<ellipse class="k" cx="1424.0" cy="794.3" rx="1.2" ry="1.8"/>
</g>
<g id="p08_rack">
<polygon class="w" points="694.9,1633.6 519.9,1732.7 530.1,1750.6 705.1,1651.6"/>
<polygon class="w" points="519.9,1732.7 491.9,1748.5 502.1,1766.5 530.1,1750.6"/>
<polygon class="w" points="492.4,1749.4 476.4,1758.5 485.6,1774.7 501.6,1765.6"/>
<polygon class="w" points="477.2,1759.8 455.7,1771.9 463.3,1785.5 484.8,1773.3"/>
<polygon class="w" points="454.6,1770.0 378.1,1813.3 387.9,1830.7 464.4,1787.4"/>
<polygon class="w" points="1030.2,1461.1 1202.2,1361.7 1191.8,1343.9 1019.8,1443.3"/>
<polygon class="w" points="1202.2,1361.7 1228.2,1346.7 1217.8,1328.8 1191.8,1343.9"/>
<polygon class="w" points="1227.7,1345.8 1237.7,1340.0 1228.3,1323.9 1218.3,1329.7"/>
<polygon class="w" points="1236.9,1338.7 1256.9,1327.2 1249.1,1313.7 1229.1,1325.2"/>
<polygon class="w" points="1258.1,1329.3 1340.1,1281.9 1329.9,1264.2 1247.9,1311.6"/>
<ellipse class="w" cx="796.6" cy="1585.5" rx="11.4" ry="33.5" transform="rotate(-29.572822416214343 796.6 1585.5)"/>
<ellipse class="w" cx="788.9" cy="1589.9" rx="12.1" ry="35.6" transform="rotate(-29.572822416214343 788.9 1589.9)"/>
<ellipse class="w" cx="781.5" cy="1594.0" rx="12.4" ry="36.5" transform="rotate(-29.572822416214343 781.5 1594.0)"/>
<ellipse class="w" cx="774.5" cy="1598.0" rx="12.7" ry="37.3" transform="rotate(-29.572822416214343 774.5 1598.0)"/>
<ellipse class="w" cx="767.8" cy="1601.8" rx="12.7" ry="37.3" transform="rotate(-29.572822416214343 767.8 1601.8)"/>
<ellipse class="w" cx="761.4" cy="1605.5" rx="12.7" ry="37.3" transform="rotate(-29.572822416214343 761.4 1605.5)"/>
<ellipse class="w" cx="755.2" cy="1608.9" rx="12.7" ry="37.3" transform="rotate(-29.572822416214343 755.2 1608.9)"/>
<ellipse class="w" cx="749.4" cy="1612.3" rx="12.7" ry="37.3" transform="rotate(-29.572822416214343 749.4 1612.3)"/>
<ellipse class="w" cx="743.8" cy="1615.4" rx="12.7" ry="37.3" transform="rotate(-29.572822416214343 743.8 1615.4)"/>
<ellipse class="w" cx="738.4" cy="1618.5" rx="12.5" ry="36.7" transform="rotate(-29.572822416214343 738.4 1618.5)"/>
<ellipse class="w" cx="733.3" cy="1621.4" rx="12.3" ry="36.2" transform="rotate(-29.572822416214343 733.3 1621.4)"/>
<ellipse class="w" cx="728.5" cy="1624.1" rx="12.2" ry="35.8" transform="rotate(-29.572822416214343 728.5 1624.1)"/>
<ellipse class="w" cx="723.8" cy="1626.8" rx="11.9" ry="35.1" transform="rotate(-29.572822416214343 723.8 1626.8)"/>
<ellipse class="w" cx="719.3" cy="1629.3" rx="11.7" ry="34.4" transform="rotate(-29.572822416214343 719.3 1629.3)"/>
<ellipse class="w" cx="715.1" cy="1631.7" rx="11.4" ry="33.6" transform="rotate(-29.572822416214343 715.1 1631.7)"/>
<ellipse class="w" cx="711.0" cy="1634.0" rx="11.2" ry="32.9" transform="rotate(-29.572822416214343 711.0 1634.0)"/>
<ellipse class="w" cx="707.1" cy="1636.2" rx="10.8" ry="31.9" transform="rotate(-29.572822416214343 707.1 1636.2)"/>
<ellipse class="w" cx="703.4" cy="1638.3" rx="10.3" ry="30.4" transform="rotate(-29.572822416214343 703.4 1638.3)"/>
<ellipse class="w" cx="699.9" cy="1640.4" rx="9.8" ry="28.9" transform="rotate(-29.572822416214343 699.9 1640.4)"/>
<ellipse class="w" cx="696.5" cy="1642.3" rx="9.3" ry="27.4" transform="rotate(-29.572822416214343 696.5 1642.3)"/>
<ellipse class="w" cx="693.2" cy="1644.1" rx="8.7" ry="25.5" transform="rotate(-29.572822416214343 693.2 1644.1)"/>
<ellipse class="w" cx="690.1" cy="1645.9" rx="8.0" ry="23.6" transform="rotate(-29.572822416214343 690.1 1645.9)"/>
<ellipse class="w" cx="687.2" cy="1647.6" rx="7.4" ry="21.9" transform="rotate(-29.572822416214343 687.2 1647.6)"/>
<ellipse class="w" cx="684.3" cy="1649.2" rx="6.7" ry="19.7" transform="rotate(-29.572822416214343 684.3 1649.2)"/>
<ellipse class="w" cx="681.4" cy="1650.8" rx="5.7" ry="16.9" transform="rotate(-29.572822416214343 681.4 1650.8)"/>
<ellipse class="w" cx="678.6" cy="1652.5" rx="4.9" ry="14.4" transform="rotate(-29.572822416214343 678.6 1652.5)"/>
<path class="h" d="M 671.1 1641.1 C 679.8 1644.8 687.3 1658.4 687.3 1669.6"/>
<path class="p" d="M 687.3 1669.6 L 679.8 1668.4 L 681.0 1664.6"/>
<ellipse class="w" cx="1036.2" cy="1448.5" rx="5.6" ry="16.4" transform="rotate(-28.056903764862987 1036.2 1448.5)"/>
<ellipse class="w" cx="1033.4" cy="1450.0" rx="7.0" ry="20.5" transform="rotate(-28.056903764862987 1033.4 1450.0)"/>
<ellipse class="w" cx="1030.6" cy="1451.5" rx="8.1" ry="24.0" transform="rotate(-28.056903764862987 1030.6 1451.5)"/>
<ellipse class="w" cx="1027.7" cy="1453.0" rx="9.2" ry="26.9" transform="rotate(-28.056903764862987 1027.7 1453.0)"/>
<ellipse class="w" cx="1024.8" cy="1454.6" rx="9.7" ry="28.4" transform="rotate(-28.056903764862987 1024.8 1454.6)"/>
<ellipse class="w" cx="1021.7" cy="1456.3" rx="9.9" ry="29.3" transform="rotate(-28.056903764862987 1021.7 1456.3)"/>
<ellipse class="w" cx="1018.4" cy="1458.0" rx="10.3" ry="30.2" transform="rotate(-28.056903764862987 1018.4 1458.0)"/>
<ellipse class="w" cx="1014.9" cy="1459.9" rx="10.6" ry="31.1" transform="rotate(-28.056903764862987 1014.9 1459.9)"/>
<ellipse class="w" cx="1011.3" cy="1461.8" rx="10.9" ry="32.2" transform="rotate(-28.056903764862987 1011.3 1461.8)"/>
<ellipse class="w" cx="1007.4" cy="1463.9" rx="11.3" ry="33.2" transform="rotate(-28.056903764862987 1007.4 1463.9)"/>
<ellipse class="w" cx="1003.3" cy="1466.1" rx="11.5" ry="33.9" transform="rotate(-28.056903764862987 1003.3 1466.1)"/>
<ellipse class="w" cx="998.9" cy="1468.4" rx="11.8" ry="34.7" transform="rotate(-28.056903764862987 998.9 1468.4)"/>
<ellipse class="w" cx="994.3" cy="1470.9" rx="12.1" ry="35.5" transform="rotate(-28.056903764862987 994.3 1470.9)"/>
<ellipse class="w" cx="989.5" cy="1473.5" rx="12.3" ry="36.3" transform="rotate(-28.056903764862987 989.5 1473.5)"/>
<ellipse class="w" cx="984.3" cy="1476.2" rx="12.7" ry="37.2" transform="rotate(-28.056903764862987 984.3 1476.2)"/>
<ellipse class="w" cx="978.9" cy="1479.1" rx="12.7" ry="37.3" transform="rotate(-28.056903764862987 978.9 1479.1)"/>
<ellipse class="w" cx="973.1" cy="1482.1" rx="12.7" ry="37.3" transform="rotate(-28.056903764862987 973.1 1482.1)"/>
<ellipse class="w" cx="967.1" cy="1485.4" rx="12.7" ry="37.3" transform="rotate(-28.056903764862987 967.1 1485.4)"/>
<ellipse class="w" cx="960.7" cy="1488.8" rx="12.7" ry="37.3" transform="rotate(-28.056903764862987 960.7 1488.8)"/>
<ellipse class="w" cx="953.9" cy="1492.4" rx="12.7" ry="37.3" transform="rotate(-28.056903764862987 953.9 1492.4)"/>
<ellipse class="w" cx="946.7" cy="1496.2" rx="12.5" ry="36.7" transform="rotate(-28.056903764862987 946.7 1496.2)"/>
<ellipse class="w" cx="939.1" cy="1500.3" rx="12.2" ry="35.9" transform="rotate(-28.056903764862987 939.1 1500.3)"/>
<ellipse class="w" cx="931.1" cy="1504.6" rx="11.9" ry="35.0" transform="rotate(-28.056903764862987 931.1 1504.6)"/>
<ellipse class="w" cx="922.6" cy="1509.1" rx="11.6" ry="34.0" transform="rotate(-28.056903764862987 922.6 1509.1)"/>
<ellipse class="w" cx="1041.2" cy="1446.1" rx="4.5" ry="12.4" transform="rotate(-30 1041.2 1446.1)"/>
<path class="h" d="M 1037.5 1433.7 C 1044.9 1437.4 1048.6 1447.3 1047.4 1457.3"/>
<path class="p" d="M 1043.7 1461.0 L 1046.9 1463.5 L 1048.4 1459.7"/>
<path class="w" d="M 782.4 1555.6 C 788.6 1550.6 797.3 1549.3 806.0 1551.8 L 796.7 1527.0 L 794.8 1517.1 C 794.8 1499.7 807.3 1488.5 824.6 1487.9 L 834.6 1483.5 L 839.5 1479.2 L 855.7 1470.5 C 864.4 1468.6 873.1 1474.8 874.3 1483.5 L 879.3 1499.7 L 888.6 1503.4 C 891.7 1491.0 899.2 1484.8 906.6 1482.9 C 925.2 1491.0 937.7 1509.6 941.4 1529.5 L 942.6 1541.9 C 951.3 1541.9 955.7 1548.1 955.0 1555.6 C 955.7 1561.8 953.8 1568.0 948.8 1571.7 L 935.2 1576.7 C 926.5 1577.9 919.0 1575.4 915.3 1569.2 L 895.4 1555.6 L 892.3 1566.7 L 891.1 1579.2 L 881.8 1590.3 L 870.6 1594.1 C 873.1 1599.0 873.1 1607.7 872.5 1602.7 C 873.1 1607.7 871.8 1612.7 868.1 1617.7 L 855.7 1623.9 C 844.5 1627.6 834.6 1623.9 829.6 1611.4 L 827.1 1604.0 L 823.4 1609.0 C 822.2 1586.6 811.0 1566.7 796.7 1559.3 Z" style="stroke:none"/>
<path class="w" d="M 889.2 1498.4 C 891.7 1491.0 899.2 1484.8 906.6 1482.9 C 925.2 1491.0 937.7 1509.6 941.4 1529.5 L 935.2 1532.0 C 932.7 1519.5 919.0 1502.2 899.2 1499.7 Z"/>
<path class="p" style="stroke-width:4.6" d="M 907.8 1484.2 C 925.2 1491.6 937.7 1509.6 941.1 1529.5"/>
<path class="p" style="stroke-width:3.4" d="M 897.9 1487.9 C 912.8 1491.6 927.7 1504.6 932.7 1524.5"/>
<path class="p" d="M 894.2 1502.2 C 904.1 1504.6 916.5 1514.6 922.7 1524.5 M 901.6 1524.5 L 907.8 1522.0 C 912.8 1519.5 919.0 1523.3 922.7 1529.5 M 888.6 1503.4 L 898.5 1508.4 L 886.7 1514.6 M 899.2 1508.4 C 906.6 1508.4 915.3 1514.6 919.0 1522.0"/>
<path class="w" d="M 782.4 1555.6 C 788.6 1550.6 797.3 1549.3 806.0 1551.8 C 813.5 1556.8 824.6 1571.7 827.1 1590.3 L 824.6 1599.0 L 823.4 1609.0 L 817.2 1610.2 C 818.4 1586.6 807.3 1566.7 789.9 1559.3 Z"/>
<path class="p" style="stroke-width:4.6" d="M 796.7 1559.3 C 807.3 1566.7 817.2 1584.1 819.1 1605.2"/>
<path class="p" d="M 788.6 1553.1 C 802.3 1555.6 819.7 1574.2 824.6 1599.0 M 801.0 1552.1 C 813.5 1556.8 824.6 1571.7 827.1 1590.3"/>
<path class="p" d="M 856.9 1536.9 L 873.1 1544.4 L 889.2 1556.8 M 889.2 1546.9 L 904.1 1540.0 M 889.2 1548.1 L 895.4 1555.6 L 920.3 1568.0 M 891.1 1549.3 L 920.9 1566.1 M 845.8 1548.1 L 845.8 1561.8 M 825.3 1575.4 L 837.1 1585.4"/>
<path class="p" d="M 834.6 1483.5 L 839.5 1479.2 L 855.7 1470.5 M 833.3 1486.0 L 835.8 1482.9 M 874.3 1483.5 L 879.3 1499.7 L 885.5 1524.5 L 880.5 1524.5 L 873.1 1504.6 M 851.3 1488.5 L 861.9 1519.5 L 866.9 1533.2 L 870.6 1532.0 L 864.4 1504.6 M 856.9 1494.7 L 868.1 1529.5 M 879.3 1499.7 L 888.6 1503.4"/>
<ellipse class="w" cx="862.5" cy="1483.5" rx="11.8" ry="13.0"/>
<ellipse class="h" cx="862.5" cy="1483.5" rx="11.8" ry="13.0"/>
<ellipse class="h" cx="862.9" cy="1483.9" rx="6.8" ry="8.1"/>
<path class="p" d="M 902.3 1522.6 L 909.1 1524.5 L 930.2 1548.1 C 931.4 1544.4 936.4 1541.9 941.4 1541.6 M 902.3 1522.6 L 902.9 1528.2 L 919.0 1561.8 L 920.9 1568.0 L 915.3 1569.2 C 919.0 1575.4 926.5 1577.9 935.2 1576.7 L 948.8 1571.7 C 953.8 1568.0 955.7 1561.8 955.0 1555.6 M 924.0 1524.5 L 930.2 1522.0 L 942.6 1541.9 M 924.0 1524.5 L 923.4 1529.5 L 931.4 1545.6"/>
<ellipse class="w" cx="943.2" cy="1554.3" rx="12.4" ry="13.0"/>
<ellipse class="h" cx="943.2" cy="1554.3" rx="12.4" ry="13.0"/>
<ellipse class="h" cx="943.4" cy="1554.7" rx="6.8" ry="7.7"/>
<path class="p" d="M 833.3 1563.0 L 837.7 1561.8 L 855.7 1586.6 L 859.4 1589.7 M 833.3 1563.0 L 834.6 1569.2 L 844.5 1592.8 L 847.0 1597.8 L 827.1 1606.5 M 827.1 1604.0 L 829.6 1611.4 C 834.6 1623.9 844.5 1627.6 855.7 1623.9 L 868.1 1617.7 C 871.8 1612.7 873.1 1607.7 872.5 1602.7 M 849.5 1589.1 C 852.0 1587.2 855.7 1586.6 856.9 1587.2 M 837.7 1561.8 L 849.5 1589.1"/>
<ellipse class="w" cx="860.0" cy="1602.7" rx="12.4" ry="13.0"/>
<ellipse class="h" cx="860.0" cy="1602.7" rx="12.4" ry="13.0"/>
<ellipse class="h" cx="860.2" cy="1603.1" rx="6.8" ry="7.7"/>
<path class="w" d="M 860.7 1581.6 L 864.4 1569.2 L 874.3 1560.5 L 885.5 1558.0 L 892.3 1566.7 L 891.1 1579.2 L 881.8 1590.3 L 870.6 1594.1 Z"/>
<path class="h" d="M 860.7 1581.6 L 864.4 1569.2 L 874.3 1560.5 L 885.5 1558.0 L 892.3 1566.7 L 891.1 1579.2 L 881.8 1590.3 L 870.6 1594.1 Z"/>
<path class="h" d="M 866.2 1581.6 L 869.3 1572.3 L 876.8 1565.5 L 884.9 1563.6 L 888.0 1569.2 L 886.7 1578.5 L 879.9 1586.6 L 871.2 1589.1 Z"/>
<path class="p" d="M 869.3 1582.9 C 870.6 1574.2 876.8 1568.0 884.9 1566.7 M 871.8 1585.4 L 881.8 1580.4 M 873.1 1583.5 L 873.7 1586.0 M 875.3 1582.4 L 875.9 1585.1 M 877.5 1581.4 L 878.2 1584.1 M 879.8 1580.4 L 880.4 1582.9 M 881.8 1574.2 L 882.4 1579.2"/>
<path class="w" d="M 794.8 1517.1 L 796.7 1527.0 C 807.3 1544.4 839.5 1546.9 855.1 1529.5 L 855.7 1517.1 Z"/>
<path class="p" d="M 799.8 1536.9 C 811.0 1551.8 842.0 1553.1 854.4 1535.7 L 855.1 1529.5 M 806.0 1541.9 L 818.4 1553.1 L 823.4 1551.8 M 812.2 1548.1 L 817.2 1544.4 L 819.7 1553.1"/>
<path class="h" d="M 797.1 1527.6 C 807.3 1545.0 839.5 1547.5 855.1 1530.1"/>
<ellipse class="w" cx="824.9" cy="1513.3" rx="30.8" ry="25.5"/>
<path class="w" d="M 811.0 1483.5 L 811.0 1491.0 L 812.8 1493.5 L 811.6 1499.7 L 813.5 1504.6 L 813.5 1509.6 C 817.2 1515.8 828.4 1515.8 832.7 1508.4 L 831.5 1502.2 L 832.1 1499.7 L 830.9 1492.2 L 826.9 1491.0 L 826.9 1483.5 Z"/>
<path class="p" style="stroke-width:4.2" d="M 811.0 1491.0 C 813.5 1495.0 824.6 1495.0 826.9 1491.0"/>
<path class="p" style="stroke-width:4.2" d="M 811.2 1499.7 C 814.7 1504.9 828.4 1505.5 832.1 1499.7"/>
<path class="h" d="M 813.5 1509.6 C 817.2 1514.8 828.4 1514.8 832.7 1508.4"/>
<path class="p" d="M 812.8 1493.5 C 815.9 1497.8 827.1 1498.2 830.9 1492.8 M 813.5 1504.6 C 817.2 1509.0 827.1 1509.4 831.5 1503.4 M 815.3 1512.1 C 819.7 1516.4 827.1 1515.8 830.9 1512.1"/>
<ellipse class="w" cx="818.8" cy="1483.3" rx="7.7" ry="5.6"/>
<ellipse class="h" cx="818.8" cy="1483.3" rx="7.7" ry="5.6"/>
<ellipse class="k" cx="818.8" cy="1483.5" rx="1.1" ry="1.1"/>
<path class="p" d="M 625.5 1696.6 Q 626.0 1684.5 615.3 1678.7"/>
<path class="t" d="M 628.6 1694.9 Q 629.1 1682.8 618.4 1676.9"/>
<path class="p" d="M 1105.5 1417.6 Q 1106.0 1405.5 1095.3 1399.7"/>
<path class="t" d="M 1102.4 1419.4 Q 1102.9 1407.3 1092.2 1401.5"/>
<path class="p" d="M 530.1 1750.6 Q 530.6 1738.5 519.9 1732.7"/>
<path class="p" d="M 502.1 1766.5 Q 502.6 1754.3 491.9 1748.5"/>
<path class="p" d="M 485.6 1774.7 Q 486.6 1763.4 476.4 1758.5"/>
<path class="p" d="M 464.4 1787.4 Q 465.1 1775.6 454.6 1770.0"/>
<path class="p" d="M 1202.1 1361.8 Q 1202.6 1349.6 1191.9 1343.8"/>
<path class="p" d="M 1228.1 1346.7 Q 1228.6 1334.6 1217.9 1328.8"/>
<path class="p" d="M 1237.6 1340.1 Q 1238.6 1328.8 1228.4 1323.9"/>
<path class="p" d="M 1258.0 1329.3 Q 1258.6 1317.3 1248.0 1311.5"/>
<path class="p" d="M 1264.0 1325.8 Q 1264.6 1313.8 1254.0 1308.1"/>
<path class="p" d="M 1267.0 1324.1 Q 1267.6 1312.1 1257.0 1306.3"/>
<path class="p" d="M 467.9 1785.4 Q 468.6 1773.6 458.1 1768.0"/>
<path class="t" d="M 488.6 1773.0 Q 489.6 1761.7 479.4 1756.8"/>
<path class="p" d="M 459.9 1790.0 Q 460.6 1778.1 450.1 1772.6"/>
<path class="p" d="M 1273.0 1320.6 Q 1273.6 1308.6 1263.0 1302.9"/>
<path class="p" d="M 455.1 1792.7 Q 455.7 1780.9 445.2 1775.3"/>
<path class="p" d="M 1277.6 1318.0 Q 1278.2 1305.9 1267.6 1300.2"/>
<path class="p" d="M 450.2 1795.5 Q 450.9 1783.6 440.4 1778.1"/>
<path class="p" d="M 1282.3 1315.3 Q 1282.8 1303.3 1272.2 1297.5"/>
<path class="p" d="M 445.4 1798.2 Q 446.0 1786.3 435.5 1780.8"/>
<path class="p" d="M 1286.9 1312.6 Q 1287.4 1300.6 1276.8 1294.9"/>
<path class="p" d="M 440.5 1800.9 Q 441.2 1789.1 430.7 1783.5"/>
<path class="p" d="M 1291.5 1310.0 Q 1292.0 1297.9 1281.4 1292.2"/>
<path class="p" d="M 435.7 1803.7 Q 436.3 1791.8 425.8 1786.3"/>
<path class="p" d="M 1296.1 1307.3 Q 1296.6 1295.3 1286.1 1289.5"/>
<path class="p" d="M 430.8 1806.4 Q 431.5 1794.6 421.0 1789.0"/>
<path class="p" d="M 1300.7 1304.6 Q 1301.3 1292.6 1290.7 1286.9"/>
<path class="p" d="M 426.0 1809.2 Q 426.6 1797.3 416.2 1791.8"/>
<path class="p" d="M 1305.3 1302.0 Q 1305.9 1289.9 1295.3 1284.2"/>
<path class="p" d="M 421.2 1811.9 Q 421.8 1800.1 411.3 1794.5"/>
<path class="p" d="M 1309.9 1299.3 Q 1310.5 1287.3 1299.9 1281.5"/>
<path class="p" d="M 416.3 1814.7 Q 417.0 1802.8 406.5 1797.3"/>
<path class="p" d="M 1314.6 1296.6 Q 1315.1 1284.6 1304.5 1278.9"/>
<path class="p" d="M 411.5 1817.4 Q 412.1 1805.6 401.6 1800.0"/>
<path class="p" d="M 1319.2 1294.0 Q 1319.7 1281.9 1309.1 1276.2"/>
<path class="p" d="M 406.6 1820.1 Q 407.3 1808.3 396.8 1802.7"/>
<path class="p" d="M 1323.8 1291.3 Q 1324.3 1279.3 1313.7 1273.5"/>
<path class="p" d="M 401.8 1822.9 Q 402.4 1811.0 391.9 1805.5"/>
<path class="p" d="M 1328.4 1288.6 Q 1329.0 1276.6 1318.4 1270.9"/>
<path class="p" d="M 396.9 1825.6 Q 397.6 1813.8 387.1 1808.2"/>
<path class="p" d="M 1333.0 1285.9 Q 1333.6 1273.9 1323.0 1268.2"/>
<ellipse class="w" cx="383.0" cy="1822.0" rx="4.2" ry="10.0" transform="rotate(-29.5 383.0 1822.0)"/>
<ellipse class="w" cx="1335.0" cy="1273.0" rx="4.2" ry="10.2" transform="rotate(-30 1335.0 1273.0)"/>
<ellipse class="p" cx="1332.5" cy="1274.4" rx="4.2" ry="10.2" transform="rotate(-30 1332.5 1274.4)"/>
<path class="t" d="M 381.0 1823.0 L 386.0 1820.0"/>
<path class="p" d="M 497.2 1753.3 L 521.2 1739.7"/>
<path class="p" d="M 500.8 1759.4 L 524.8 1745.8"/>
<path class="p" d="M 1197.2 1348.6 L 1219.2 1335.9"/>
<path class="p" d="M 1200.8 1354.7 L 1222.8 1342.0"/>
</g>
<g id="p09_tierod">
<path class="w" d="M 1385.6 1225.6 L 1392.0 1219.9 L 1426.8 1202.2 L 1432.4 1202.5 L 1443.8 1216.4 L 1443.5 1230.6 L 1409.0 1250.4 L 1396.3 1252.6 L 1387.0 1241.9 Z"/>
<path class="p" d="M 1385.6 1225.6 L 1397.7 1222.8 L 1407.6 1234.8 L 1408.6 1250.4 M 1397.7 1222.8 L 1432.4 1202.5 M 1407.6 1234.8 L 1443.8 1216.4"/>
<path class="h" d="M 1385.6 1225.6 L 1387.0 1241.9 L 1396.3 1252.6 L 1409.0 1250.4"/>
<ellipse class="h" cx="1397.0" cy="1238.4" rx="8.2" ry="10.8" transform="rotate(-10 1397.0 1238.4)"/>
<ellipse class="p" cx="1396.4" cy="1239.1" rx="5.4" ry="7.7" transform="rotate(-10 1396.4 1239.1)"/>
<path class="t" d="M 1391.3 1238.4 L 1397.7 1237.4"/>
<path class="w" d="M 1487.8 1169.5 L 1537.5 1144.0 C 1540.3 1141.2 1541.7 1136.9 1542.4 1134.1 L 1585.7 1132.6 L 1587.9 1145.4 L 1582.9 1162.4 L 1573.0 1173.8 L 1572.2 1183.7 L 1570.8 1202.2 C 1568.7 1206.4 1558.8 1207.9 1554.5 1202.2 L 1555.2 1182.3 L 1554.5 1173.8 L 1547.4 1168.1 L 1500.6 1194.4 Z"/>
<path class="p" d="M 1547.4 1168.1 C 1551.7 1159.6 1554.5 1153.9 1560.2 1151.1 C 1568.7 1148.3 1574.4 1146.8 1580.1 1142.6"/>
<path class="p" d="M 1509.8 1157.5 L 1521.2 1151.8 L 1527.5 1156.1 L 1516.9 1162.4 Z"/>
<path class="h" d="M 1524.7 1149.7 L 1526.1 1155.4"/>
<path class="p" d="M 1530.4 1148.3 L 1537.5 1151.8 M 1541.7 1153.9 L 1554.5 1146.8 M 1502.0 1159.6 L 1506.3 1157.5"/>
<ellipse class="w" cx="1492.1" cy="1182.3" rx="10.2" ry="13.6" transform="rotate(-12 1492.1 1182.3)"/>
<ellipse class="h" cx="1492.1" cy="1182.3" rx="10.2" ry="13.6" transform="rotate(-12 1492.1 1182.3)"/>
<ellipse class="p" cx="1491.5" cy="1183.0" rx="6.2" ry="8.8" transform="rotate(-12 1491.5 1183.0)"/>
<path class="t" d="M 1487.8 1183.0 L 1493.5 1182.0"/>
<path class="h" d="M 1542.4 1136.9 C 1548.8 1147.5 1571.5 1149.0 1585.7 1135.5"/>
<path class="p" d="M 1544.6 1146.8 C 1554.5 1156.8 1574.4 1156.8 1587.9 1145.4 M 1554.5 1161.0 C 1568.7 1162.4 1581.5 1158.2 1585.0 1152.5 M 1553.1 1170.3 C 1565.9 1172.4 1580.1 1168.1 1582.9 1162.4 M 1547.4 1168.1 L 1553.1 1170.3"/>
<path class="h" d="M 1545.3 1148.3 C 1554.5 1158.2 1574.4 1158.2 1587.4 1147.5"/>
<ellipse class="w" cx="1563.7" cy="1131.2" rx="22.0" ry="13.5"/>
<ellipse class="h" cx="1563.7" cy="1131.2" rx="22.0" ry="13.5"/>
<ellipse class="p" cx="1563.0" cy="1130.5" rx="17.0" ry="10.2"/>
<ellipse class="p" cx="1561.9" cy="1128.4" rx="10.6" ry="6.4"/>
<ellipse class="p" cx="1561.6" cy="1127.0" rx="7.1" ry="4.3"/>
<path class="h" d="M 1555.2 1188.0 C 1560.2 1190.8 1567.3 1190.1 1571.5 1187.3 M 1554.9 1193.7 C 1560.2 1196.5 1567.3 1195.8 1571.3 1193.0 M 1554.8 1199.3 C 1560.2 1202.2 1567.3 1201.5 1571.0 1198.6 M 1555.2 1182.3 C 1560.2 1185.2 1567.3 1184.9 1572.2 1183.0"/>
<path class="p" d="M 1554.5 1173.8 C 1560.2 1176.6 1568.7 1176.4 1573.0 1173.8"/>
<path class="w" d="M 283.0 1860.5 L 323.6 1839.8 L 330.2 1839.5 L 341.0 1854.7 L 340.5 1868.8 L 305.4 1887.8 L 293.8 1889.5 L 283.9 1876.2 Z"/>
<path class="p" d="M 283.0 1860.5 L 293.8 1858.0 L 306.2 1872.1 L 305.4 1887.8 M 293.8 1858.0 L 330.2 1839.5 M 306.2 1872.1 L 341.0 1854.7"/>
<path class="h" d="M 283.0 1860.5 L 283.9 1876.2 L 293.8 1889.5 L 305.4 1887.8"/>
<ellipse class="h" cx="293.8" cy="1873.7" rx="7.9" ry="10.3" transform="rotate(-10 293.8 1873.7)"/>
<ellipse class="p" cx="293.1" cy="1874.6" rx="5.1" ry="7.3" transform="rotate(-10 293.1 1874.6)"/>
<path class="t" d="M 288.8 1874.2 L 294.6 1873.3"/>
<path class="w" d="M 179.5 1924.3 L 232.5 1894.4 C 242.5 1896.1 249.1 1906.0 247.4 1917.6 L 202.7 1944.9 L 196.1 1942.5 L 192.0 1947.4 L 191.1 1959.0 L 187.8 1967.3 L 185.3 1972.3 L 177.9 1978.9 L 175.4 1983.0 L 174.6 1992.1 L 175.4 2010.4 C 171.3 2014.5 163.0 2014.5 158.8 2010.4 L 159.7 1992.1 L 158.8 1982.2 L 148.1 1970.6 L 143.9 1959.0 L 143.1 1939.2 Z"/>
<path class="p" d="M 196.1 1916.0 L 219.3 1905.2 L 225.9 1906.0 M 203.6 1913.5 L 216.0 1907.7 L 222.6 1911.0 L 209.3 1917.6 Z M 192.8 1917.6 C 196.1 1922.6 199.4 1924.3 202.7 1924.3 L 201.9 1917.6 M 196.1 1942.5 L 194.4 1935.8"/>
<path class="p" d="M 202.7 1924.3 C 197.8 1929.2 192.8 1934.2 191.1 1940.8"/>
<path class="h" d="M 142.3 1952.4 C 143.1 1963.2 172.9 1969.8 192.0 1959.0"/>
<path class="p" d="M 143.1 1949.9 C 144.8 1959.0 172.9 1965.6 191.5 1955.7 M 143.9 1959.0 L 145.6 1969.0 C 151.4 1977.2 179.5 1977.2 187.8 1967.3 M 148.1 1970.6 C 156.4 1977.2 176.2 1977.2 185.3 1972.3 M 158.8 1982.2 C 163.0 1984.7 171.3 1984.7 175.4 1983.0"/>
<ellipse class="w" cx="167.1" cy="1938.3" rx="23.2" ry="14.1"/>
<ellipse class="h" cx="167.1" cy="1938.3" rx="23.2" ry="14.1"/>
<ellipse class="p" cx="167.1" cy="1937.5" rx="17.4" ry="10.3"/>
<ellipse class="p" cx="165.5" cy="1935.0" rx="10.8" ry="6.3"/>
<ellipse class="p" cx="164.6" cy="1933.4" rx="7.0" ry="4.1"/>
<path class="h" d="M 159.3 1993.8 C 164.6 1996.3 171.3 1995.5 174.9 1993.0 M 159.0 1999.6 C 164.6 2002.1 171.3 2001.2 174.9 1998.8 M 159.0 2005.4 C 164.6 2007.9 171.3 2007.0 175.1 2004.6 M 159.7 1992.1 C 164.6 1993.8 171.3 1993.5 174.6 1991.8"/>
</g>
<g id="p10_small">
<ellipse class="w" cx="446.6" cy="2044.9" rx="15.4" ry="10.1"/>
<ellipse class="w" cx="446.6" cy="2043.1" rx="15.4" ry="10.1"/>
<ellipse class="p" cx="446.6" cy="2043.1" rx="15.4" ry="10.1"/>
<ellipse class="p" cx="446.6" cy="2042.6" rx="8.9" ry="5.4"/>
<path class="w" d="M 432.8 2140.7 L 433.1 2154.5 L 436.9 2159.9 L 440.0 2160.7 L 440.4 2162.2 L 444.6 2162.5 L 445.1 2161.4 L 449.7 2161.4 L 450.3 2162.2 L 453.8 2161.4 L 456.1 2159.9 L 460.0 2153.8 L 460.0 2140.7 Z"/>
<path class="p" d="M 432.8 2140.7 L 433.1 2154.5 L 436.9 2159.9 L 440.0 2160.7 L 440.4 2162.2 L 444.6 2162.5 L 445.1 2161.4 L 449.7 2161.4 L 450.3 2162.2 L 453.8 2161.4 L 456.1 2159.9 L 460.0 2153.8 L 460.0 2140.7"/>
<path class="p" d="M 432.8 2140.7 C 433.1 2148.4 439.2 2150.2 446.6 2149.6 C 454.6 2149.1 460.0 2146.8 460.0 2140.7 M 438.4 2148.4 L 438.9 2160.4 M 452.3 2148.7 L 452.7 2161.3"/>
<ellipse class="w" cx="446.6" cy="2140.7" rx="13.8" ry="8.5"/>
<ellipse class="p" cx="446.6" cy="2140.7" rx="13.8" ry="8.5"/>
<ellipse class="p" cx="446.6" cy="2140.7" rx="8.3" ry="4.9"/>
<ellipse class="w" cx="1351.7" cy="1521.6" rx="15.4" ry="10.1"/>
<ellipse class="w" cx="1351.7" cy="1519.8" rx="15.4" ry="10.1"/>
<ellipse class="p" cx="1351.7" cy="1519.8" rx="15.4" ry="10.1"/>
<ellipse class="p" cx="1351.7" cy="1519.3" rx="8.9" ry="5.4"/>
<path class="w" d="M 1337.9 1617.4 L 1338.2 1631.2 L 1342.0 1636.6 L 1345.1 1637.4 L 1345.5 1638.9 L 1349.7 1639.2 L 1350.2 1638.1 L 1354.8 1638.1 L 1355.4 1638.9 L 1358.9 1638.1 L 1361.2 1636.6 L 1365.1 1630.5 L 1365.1 1617.4 Z"/>
<path class="p" d="M 1337.9 1617.4 L 1338.2 1631.2 L 1342.0 1636.6 L 1345.1 1637.4 L 1345.5 1638.9 L 1349.7 1639.2 L 1350.2 1638.1 L 1354.8 1638.1 L 1355.4 1638.9 L 1358.9 1638.1 L 1361.2 1636.6 L 1365.1 1630.5 L 1365.1 1617.4"/>
<path class="p" d="M 1337.9 1617.4 C 1338.2 1625.1 1344.3 1626.9 1351.7 1626.3 C 1359.7 1625.8 1365.1 1623.5 1365.1 1617.4 M 1343.5 1625.1 L 1344.0 1637.1 M 1357.4 1625.4 L 1357.8 1638.0"/>
<ellipse class="w" cx="1351.7" cy="1617.4" rx="13.8" ry="8.5"/>
<ellipse class="p" cx="1351.7" cy="1617.4" rx="13.8" ry="8.5"/>
<ellipse class="p" cx="1351.7" cy="1617.4" rx="8.3" ry="4.9"/>
<path class="p" style="stroke-width:3.8" d="M 519.5 2092.7 L 542.2 2106.1"/>
<ellipse class="k" cx="542.5" cy="2106.4" rx="2.3" ry="2.3"/>
<path class="p" style="stroke-width:3.8" d="M 1433.8 1566.5 L 1456.5 1579.9"/>
<ellipse class="k" cx="1456.8" cy="1580.2" rx="2.3" ry="2.3"/>
</g>
<g id="p11_fasteners">
<ellipse class="k" cx="700.3" cy="371.5" rx="18.5" ry="17.9"/>
<ellipse class="w" cx="703.3" cy="371.2" rx="15.3" ry="16.0"/>
<ellipse class="h" cx="701.2" cy="371.9" rx="8.2" ry="8.8"/>
<path class="p" d="M 695.5 377.6 C 699.7 376.9 704.0 372.6 705.1 367.0"/>
<ellipse class="w" cx="780.9" cy="401.3" rx="16.7" ry="17.0"/>
<ellipse class="p" cx="780.6" cy="401.3" rx="3.7" ry="4.3"/>
<path class="w" d="M 851.9 424.9 C 849.5 426.6 849.9 431.5 852.7 433.0 L 862.2 435.4 L 862.2 426.6 Z"/>
<path class="p" d="M 854.2 425.4 C 853.0 428.0 853.3 431.5 854.7 433.4 M 857.0 426.0 C 855.9 428.6 856.1 432.0 857.6 434.0 M 859.7 426.6 C 858.7 429.1 859.0 432.5 860.3 434.5"/>
<ellipse class="k" cx="869.2" cy="433.0" rx="8.8" ry="9.4"/>
<ellipse class="w" cx="870.5" cy="434.0" rx="4.3" ry="4.5"/>
<g style="stroke:#fdfefc"><path class="t" d="M 861.5 437.9 C 863.0 440.8 865.8 442.5 868.6 442.5"/></g>
<ellipse class="w" cx="499.3" cy="892.0" rx="17.0" ry="17.0"/>
<ellipse class="h" cx="499.3" cy="892.0" rx="7.4" ry="7.7"/>
<ellipse class="h" cx="499.3" cy="892.3" rx="4.3" ry="4.5"/>
<ellipse class="p" cx="500.5" cy="892.6" rx="1.7" ry="2.0"/>
<ellipse class="w" cx="835.7" cy="731.5" rx="8.5" ry="10.5" transform="rotate(-12 835.7 731.5)"/>
<ellipse class="w" cx="833.6" cy="731.2" rx="8.8" ry="10.6" transform="rotate(-12 833.6 731.2)"/>
<ellipse class="h" cx="833.6" cy="731.2" rx="8.8" ry="10.6" transform="rotate(-12 833.6 731.2)"/>
<ellipse class="p" cx="832.5" cy="731.5" rx="4.8" ry="6.2" transform="rotate(-12 832.5 731.5)"/>
<path class="t" d="M 830.1 731.5 L 834.3 730.9"/>
<path class="w" d="M 760.5 766.7 C 764.1 763.9 768.3 764.6 769.7 765.3 L 777.5 761.3 C 779.7 763.2 779.7 766.7 778.0 768.4 L 771.2 771.7 C 770.4 775.2 768.3 779.5 764.8 781.6 Z"/>
<path class="h" d="M 771.4 764.6 L 772.9 771.0 M 773.3 763.6 L 774.7 770.1 M 775.1 762.7 L 776.6 769.3"/>
<ellipse class="w" cx="758.4" cy="774.5" rx="7.4" ry="9.4" transform="rotate(-15 758.4 774.5)"/>
<ellipse class="h" cx="758.4" cy="774.5" rx="7.4" ry="9.4" transform="rotate(-15 758.4 774.5)"/>
<path class="p" d="M 751.3 773.8 L 753.4 768.1 L 759.1 766.7 L 762.9 771.0 L 761.9 777.4 L 757.0 781.2 L 752.7 779.5 Z"/>
<path class="t" d="M 753.4 768.1 L 756.3 774.5 L 752.7 779.5 M 756.3 774.5 L 761.9 777.4"/>
<polygon class="w" points="916.3,805.7 942.6,792.6 946.7,800.8 920.4,813.9"/>
<ellipse class="w" cx="944.6" cy="796.7" rx="2.1" ry="4.6" transform="rotate(-26.6 944.6 796.7)"/>
<polygon class="w" style="stroke:none" points="939.4,795.2 943.0,793.4 946.3,800.0 942.7,801.8"/>
<path class="p" d="M921.7 803.0 Q927.5 805.3 925.8 811.2"/>
<path class="p" d="M924.9 801.4 Q930.6 803.7 929.0 809.6"/>
<path class="p" d="M928.1 799.8 Q933.8 802.1 932.2 808.1"/>
<path class="p" d="M931.2 798.2 Q937.0 800.5 935.3 806.5"/>
<path class="p" d="M934.4 796.7 Q940.2 798.9 938.5 804.9"/>
<path class="p" d="M937.6 795.1 Q943.3 797.3 941.7 803.3"/>
<path class="p" d="M940.8 793.5 Q946.5 795.7 944.9 801.7"/>
<ellipse class="k" cx="916.6" cy="810.7" rx="7.6" ry="9.8" transform="rotate(-26.6 916.6 810.7)"/>
<ellipse class="w" cx="915.3" cy="811.4" rx="5.7" ry="7.8" transform="rotate(-26.6 915.3 811.4)"/>
<polygon class="p" points="918.1,812.1 917.3,816.4 913.6,816.1 910.7,811.6 911.4,807.2 915.1,807.5"/>
<path class="t" d="M918.1 812.1 L914.4 811.8 M910.7 811.6 L914.4 811.8"/>
<polygon class="w" points="1373.7,321.8 1412.3,301.4 1416.6,309.5 1378.0,329.9"/>
<ellipse class="w" cx="1414.4" cy="305.4" rx="2.1" ry="4.6" transform="rotate(-27.9 1414.4 305.4)"/>
<polygon class="w" style="stroke:none" points="1409.2,304.0 1412.7,302.2 1416.2,308.7 1412.6,310.6"/>
<path class="p" d="M1379.0 319.0 Q1384.8 321.1 1383.3 327.1"/>
<path class="p" d="M1383.0 316.9 Q1388.8 319.0 1387.3 325.0"/>
<path class="p" d="M1386.9 314.8 Q1392.7 316.9 1391.2 322.9"/>
<path class="p" d="M1390.8 312.7 Q1396.6 314.9 1395.1 320.9"/>
<path class="p" d="M1394.8 310.6 Q1400.6 312.8 1399.1 318.8"/>
<path class="p" d="M1398.7 308.6 Q1404.5 310.7 1403.0 316.7"/>
<path class="p" d="M1402.6 306.5 Q1408.4 308.6 1406.9 314.6"/>
<path class="p" d="M1406.6 304.4 Q1412.4 306.5 1410.9 312.5"/>
<path class="p" d="M1410.5 302.3 Q1416.3 304.4 1414.8 310.4"/>
<ellipse class="k" cx="1374.1" cy="326.8" rx="7.6" ry="9.8" transform="rotate(-27.9 1374.1 326.8)"/>
<ellipse class="w" cx="1372.8" cy="327.5" rx="5.7" ry="7.8" transform="rotate(-27.9 1372.8 327.5)"/>
<polygon class="p" points="1375.6,328.1 1374.9,332.5 1371.2,332.3 1368.2,327.8 1368.8,323.5 1372.5,323.6"/>
<path class="t" d="M1375.6 328.1 L1371.9 328.0 M1368.2 327.8 L1371.9 328.0"/>
<ellipse class="w" cx="1326.0" cy="547.6" rx="8.0" ry="10.6" transform="rotate(-20 1326.0 547.6)"/>
<ellipse class="h" cx="1326.0" cy="547.6" rx="8.0" ry="10.6" transform="rotate(-20 1326.0 547.6)"/>
<ellipse class="p" cx="1324.8" cy="548.2" rx="6.4" ry="8.7" transform="rotate(-20 1324.8 548.2)"/>
<ellipse class="w" cx="1322.6" cy="550.0" rx="5.3" ry="6.4" transform="rotate(-20 1322.6 550.0)"/>
<path class="h" d="M 1321.2 544.7 C 1325.0 545.7 1327.4 549.5 1326.4 554.2"/>
<ellipse class="h" cx="1321.4" cy="550.7" rx="4.2" ry="5.1" transform="rotate(-20 1321.4 550.7)"/>
<path class="t" d="M 1319.3 550.9 L 1322.6 550.2"/>
<path class="w" d="M 1373.3 515.4 L 1380.8 509.7 L 1385.6 503.1 L 1393.1 502.2 L 1395.0 516.4 L 1387.5 519.2 L 1383.2 518.3 L 1375.2 522.5 C 1372.3 521.1 1371.8 517.3 1373.3 515.4 Z"/>
<path class="h" d="M 1376.6 514.5 L 1378.5 520.6 M 1378.9 513.1 L 1380.8 519.2"/>
<path class="k" d="M 1380.8 507.8 L 1384.6 506.4 L 1387.5 517.3 L 1383.7 519.2 Z"/>
<ellipse class="k" cx="1394.1" cy="508.8" rx="6.6" ry="9.1" transform="rotate(-20 1394.1 508.8)"/>
<ellipse class="w" cx="1392.7" cy="509.3" rx="5.2" ry="7.8" transform="rotate(-20 1392.7 509.3)"/>
<path class="p" d="M 1385.6 503.1 C 1388.4 505.0 1390.3 510.7 1388.4 518.3"/>
<path class="w" d="M 1157.8 660.7 L 1164.9 655.4 L 1173.2 656.0 L 1176.7 661.9 L 1176.1 669.0 L 1170.2 672.0 L 1164.9 674.3 L 1159.0 669.0 Z"/>
<path class="h" d="M 1157.8 660.7 L 1164.9 655.4 L 1169.0 659.0 L 1168.4 670.2 L 1164.9 674.3 M 1169.0 659.0 L 1173.2 656.0 M 1168.4 670.2 L 1170.2 672.0 M 1171.4 658.4 L 1171.4 670.8 M 1174.4 660.7 L 1174.4 669.6"/>
<ellipse class="p" cx="1162.9" cy="665.5" rx="3.1" ry="4.5" transform="rotate(-10 1162.9 665.5)"/>
<ellipse class="p" cx="1162.9" cy="665.7" rx="1.2" ry="1.9" transform="rotate(-10 1162.9 665.7)"/>
<ellipse class="w" cx="1181.5" cy="1023.5" rx="9.5" ry="11.5" transform="rotate(-20 1181.5 1023.5)"/>
<ellipse class="w" cx="1179.0" cy="1022.5" rx="9.5" ry="11.5" transform="rotate(-20 1179.0 1022.5)"/>
<ellipse class="h" cx="1179.0" cy="1022.5" rx="9.5" ry="11.5" transform="rotate(-20 1179.0 1022.5)"/>
<ellipse class="h" cx="1178.0" cy="1023.0" rx="4.0" ry="5.2" transform="rotate(-20 1178.0 1023.0)"/>
<ellipse class="k" cx="802.2" cy="1796.5" rx="13.1" ry="13.3"/>
<ellipse class="w" cx="804.8" cy="1795.0" rx="12.3" ry="12.7"/>
<ellipse class="p" cx="803.8" cy="1795.5" rx="4.8" ry="7.7" transform="rotate(-30 803.8 1795.5)"/>
<path class="w" d="M 800.2 1788.6 L 830.5 1771.8 C 835.5 1771.3 839.5 1777.3 837.5 1784.4 L 807.5 1802.3 C 802.2 1802.5 798.2 1795.5 800.2 1788.6 Z"/>
<ellipse class="p" cx="833.5" cy="1777.8" rx="4.4" ry="6.0" transform="rotate(-30 833.5 1777.8)"/>
<path class="h" d="M 817.4 1780.4 C 820.4 1782.4 822.4 1787.4 821.4 1793.5 M 820.9 1778.1 C 823.9 1780.4 825.9 1785.4 824.9 1791.2 M 824.4 1776.1 C 827.4 1778.3 829.4 1783.4 828.4 1789.2"/>
<path class="h" d="M 827.9 1774.3 C 831.0 1776.3 833.0 1781.4 832.0 1787.2"/>
</g>
</g>
<g class="ln">
<polyline points="1261.2,1048.3 1643.2,1048.3 1643.2,1240.3 1582.9,1274.0"/>
<polyline points="1543.7,1296.6 851.2,1695.7"/>
<polyline points="826.9,1711.1 231.2,2054.4 183.5,2054.4"/>
<polyline points="822.4,1624.7 800.2,1637.8 869.7,1758.2 839.5,1774.8"/>
<polyline points="149.8,2054.4 62.8,2054.4 62.8,1740.3 1261.2,1048.3"/>
<polyline points="166.9,2020.3 166.9,2130.8 446.4,1971.0 446.4,2041.5"/>
<polyline points="446.4,2059.2 446.4,2140.7"/>
<polyline points="1562.8,1213.6 1562.8,1334.3 1351.7,1456.4 1351.7,1518.2"/>
<polyline points="1351.7,1535.9 1351.7,1617.4"/>
<polyline points="694.7,291.5 694.7,354.4"/>
<polyline points="784.2,323.2 784.2,386.0"/>
<polyline points="673.6,360.9 590.6,330.8 926.4,668.0"/>
<polyline points="846.6,723.0 983.2,644.4"/>
<polyline points="702.6,372.6 755.1,391.8"/>
<polyline points="784.9,402.4 845.9,425.2"/>
<polyline points="208.6,411.2 271.4,411.2"/>
<polyline points="281.5,442.3 286.5,482.6"/>
<polyline points="412.2,465.0 472.5,465.0"/>
<polyline points="408.2,495.1 418.2,547.8 373.0,556.3"/>
<polyline points="347.8,561.3 304.1,570.4"/>
<polyline points="207.1,501.7 268.9,501.7"/>
<polyline points="317.7,513.7 359.4,528.8 359.4,659.8"/>
<polyline points="173.4,668.4 161.9,616.6 297.6,663.4 289.0,625.7"/>
<polyline points="495.1,717.7 557.0,717.7"/>
<polyline points="389.6,850.4 480.0,882.0"/>
<polyline points="512.7,897.1 686.1,958.4 686.1,579.4 852.0,640.5"/>
<polyline points="497.6,909.7 497.6,970.0"/>
<polyline points="762.5,784.0 762.5,844.3"/>
<polyline points="834.4,740.3 834.4,801.6"/>
<polyline points="779.1,761.4 824.4,735.2"/>
<polyline points="1321.5,475.0 1321.5,537.7"/>
<polyline points="1372.8,517.6 1336.6,539.2"/>
<polyline points="1317.5,554.3 1201.9,618.1 1201.9,520.1 1090.3,582.9"/>
<polyline points="1396.4,512.6 1396.4,577.9"/>
<polyline points="1470.4,269.4 1470.4,768.9 1435.6,787.5"/>
<polyline points="1422.0,726.2 1422.0,785.5"/>
<polyline points="1413.0,800.6 1383.8,816.7"/>
<polyline points="1317.5,767.9 1317.5,829.2"/>
<polyline points="1175.7,673.4 1175.7,732.2"/>
<polyline points="1157.6,671.9 1080.2,714.6 1051.1,700.1"/>
<polyline points="1018.4,731.2 1279.8,841.8"/>
<polyline points="921.4,819.2 921.4,879.5"/>
<polyline points="950.5,790.5 1003.3,761.4 974.7,742.3 995.0,730.1"/>
<polyline points="1340.1,846.8 1375.3,909.7 1191.8,1015.2"/>
<polyline points="1175.7,951.4 1175.7,1010.2"/>
<polyline points="1326.5,84.4 1326.5,143.3"/>
<polyline points="1335.1,146.8 1357.7,135.7 1357.7,173.4"/>
<polyline points="1257.2,124.7 1257.2,183.5"/>
<polyline points="1254.6,197.0 1234.5,207.1 1271.2,221.2"/>
<polyline points="1088.8,163.4 1088.8,223.7"/>
<polyline points="1151.6,242.3 1269.7,235.2"/>
<polyline points="1450.7,145.8 1450.7,206.1"/>
<polyline points="1568.8,145.8 1568.8,203.6"/>
<polyline points="1557.8,222.2 1490.9,259.9"/>
<polyline points="1379.3,337.8 1379.3,394.6"/>
<polyline points="1417.0,300.6 1455.7,282.5"/>
<polyline points="1179.3,312.7 1239.6,312.7"/>
<polyline points="1149.1,260.4 1159.1,282.5"/>
<polyline points="1094.8,355.4 1155.1,355.4"/>
<polyline points="1055.1,268.9 1076.2,321.7"/>
<polyline points="870.1,362.9 870.1,422.2"/>
<polyline points="1037.5,490.1 1097.3,490.1"/>
<polyline points="662.5,1332.8 662.5,1393.1"/>
<polyline points="800.2,1403.1 818.3,1477.5"/>
<polyline points="1501.0,1100.5 1501.0,1159.8"/>
<polyline points="1398.9,1155.8 1398.9,1213.6"/>
<polyline points="1346.6,1265.4 1386.8,1242.3"/>
<polyline points="1450.7,1206.1 1484.4,1187.0"/>
<polyline points="1367.7,1520.3 1427.0,1520.3"/>
<polyline points="303.1,1789.0 303.1,1846.8"/>
<polyline points="166.9,1862.9 166.9,1924.7"/>
<polyline points="251.3,1898.6 282.5,1880.5"/>
<polyline points="345.8,1844.3 377.0,1826.7"/>
<polyline points="462.5,2043.9 521.8,2043.9"/>
<polyline points="545.4,2105.7 605.7,2105.7"/>
<polyline points="461.4,2148.4 520.3,2148.4"/>
<polyline points="809.3,1809.1 809.3,1871.0"/>
<polyline points="1460.7,1578.9 1521.0,1578.9"/>
<polyline points="1366.7,1624.7 1427.0,1624.7"/>
<circle cx="178.4" cy="691.0" r="22.6"/>
<circle cx="794.2" cy="1381.0" r="22.6"/>
</g>
<g class="lb" style="will-change:transform">
<text x="650.4 667.6 685.0 702.2 719.6 736.9" y="287.1">92161A</text>
<text x="740.1 757.4 774.8 792.0 809.4 826.6" y="317.8">92152A</text>
<text x="110.8 128.1 145.3 162.7 179.9 197.2" y="421.6">92154B</text>
<text x="483.8 501.1 518.4 535.6 553.0 570.2" y="475.4">92154B</text>
<text x="126.5 143.8 161.1 178.4 195.7" y="513.1">39114</text>
<text x="1292.9 1310.2 1327.5 1344.8 1362.1" y="79.3">92210</text>
<text x="1547.6 1562.3 1577.0 1591.7 1606.4" y="78.0" style="font-size:26.7px">F2121</text>
<text x="1223.0 1240.3 1257.6 1274.9 1292.2" y="119.5">92210</text>
<text x="1416.6 1433.9 1451.2 1468.5 1485.8" y="141.1">39190</text>
<text x="1525.0 1542.3 1559.6 1577.0 1594.2 1611.5" y="141.1">92210A</text>
<text x="1046.2 1063.5 1080.8 1098.2 1115.5 1132.8" y="158.7">39114A</text>
<text x="1249.5 1266.8 1284.1 1301.5 1318.8 1336.0" y="323.1">92154B</text>
<text x="1165.3 1182.6 1199.9 1217.2 1234.5 1251.8" y="365.8">92154B</text>
<text x="1354.3 1371.6 1389.0 1406.2" y="422.6">130A</text>
<text x="843.6 861.0 878.2 895.6" y="358.3">130A</text>
<text x="1287.1 1304.4 1321.7 1339.0 1356.3" y="471.4">92139</text>
<text x="1108.0 1125.3 1142.6 1159.9 1177.2 1194.5 1211.8 1229.1 1246.4" y="502.4" style="font-family:'Liberation Mono','DejaVu Sans Mono',monospace;font-size:31px;stroke-width:0.7px">Ref.Frame</text>
<text x="568.8 586.1 603.4 620.7 638.0" y="730.1">16172</text>
<text x="718.8 736.0 753.4 770.6 788.0 805.2" y="870.9">92154A</text>
<text x="454.4 471.7 489.0 506.2 523.6 540.9" y="996.5">92152A</text>
<text x="798.8 816.1 833.4 850.7 868.0" y="829.6">92139</text>
<text x="1352.8 1370.1 1387.4 1404.8 1422.0 1439.3" y="606.0">92154A</text>
<text x="1132.8 1150.0 1167.3 1184.7 1202.0 1219.2" y="758.3">92210A</text>
<text x="1281.6 1298.9 1316.2 1333.5 1350.8" y="762.8">92161</text>
<text x="1405.0 1422.3 1439.6" y="720.1">318</text>
<text x="904.8 922.1 939.4" y="906.5">130</text>
<text x="1140.9 1158.2 1175.5 1192.8 1210.1" y="946.8">92152</text>
<text x="625.9 643.2 660.5 677.8 695.1" y="1328.1">39191</text>
<text x="1466.4 1483.7 1501.0 1518.3 1535.6" y="1096.4">59266</text>
<text x="1355.8 1373.1 1390.4 1407.8 1425.0 1442.3" y="1151.1">92210B</text>
<text x="1438.9 1456.2 1473.5" y="1533.0">410</text>
<text x="259.6 276.9 294.2 311.4 328.8 346.1" y="1784.4">92210B</text>
<text x="130.8 148.1 165.4 182.7 200.0" y="1858.3">59266</text>
<text x="533.1 550.4 567.7" y="2055.8">410</text>
<text x="616.5 633.8 651.1" y="2116.2">550</text>
<text x="532.4 549.7 567.0 584.3 601.6" y="2159.9">92015</text>
<text x="772.9 790.2 807.5 824.8 842.1" y="1897.5">92154</text>
<text x="1531.4 1548.7 1566.0" y="1591.7">550</text>
<text x="1438.2 1455.5 1472.8 1490.1 1507.4" y="1638.0">92015</text>
<text x="178.4" y="700.5" style="font-size:26px">A</text>
<text x="794.2" y="1390.5" style="font-size:26px">A</text>
</g>
</svg></body></html>
